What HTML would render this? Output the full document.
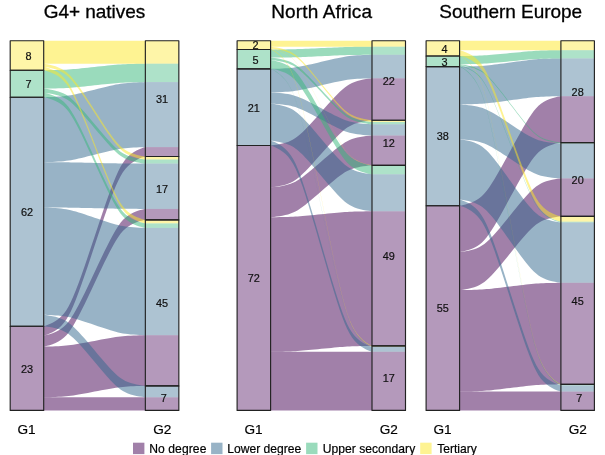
<!DOCTYPE html><html><head><meta charset="utf-8"><title>Alluvial</title><style>html,body{margin:0;padding:0;background:#fff}svg{display:block}</style></head><body><svg width="605" height="455" viewBox="0 0 605 455" font-family="Liberation Sans, Arial, sans-serif">
<rect width="605" height="455" fill="#fff"/>
<g fill-opacity="0.50">
<path d="M43.70 326.20 L43.77 326.18 L44.25 326.06 L45.38 325.73 L47.24 325.10 L49.70 324.12 L52.54 322.77 L55.50 321.06 L58.41 318.99 L61.15 316.56 L63.73 313.72 L66.17 310.38 L68.53 306.45 L70.91 301.80 L73.35 296.35 L75.91 290.07 L78.63 282.94 L81.52 274.96 L84.58 266.19 L87.80 256.75 L91.13 246.83 L94.52 236.65 L97.92 226.47 L101.25 216.55 L104.47 207.11 L107.53 198.34 L110.42 190.36 L113.14 183.23 L115.70 176.95 L118.14 171.50 L120.52 166.85 L122.88 162.92 L125.32 159.58 L127.90 156.74 L130.64 154.31 L133.55 152.24 L136.51 150.53 L139.35 149.18 L141.81 148.20 L143.67 147.57 L144.80 147.24 L145.28 147.12 L145.35 147.10 L145.35 156.50 L145.28 156.52 L144.80 156.64 L143.67 156.97 L141.81 157.60 L139.35 158.58 L136.51 159.93 L133.55 161.64 L130.64 163.71 L127.90 166.14 L125.32 168.98 L122.88 172.32 L120.52 176.25 L118.14 180.90 L115.70 186.35 L113.14 192.63 L110.42 199.76 L107.53 207.74 L104.47 216.51 L101.25 225.95 L97.92 235.87 L94.52 246.05 L91.13 256.23 L87.80 266.15 L84.58 275.59 L81.52 284.36 L78.63 292.34 L75.91 299.47 L73.35 305.75 L70.91 311.20 L68.53 315.85 L66.17 319.78 L63.73 323.12 L61.15 325.96 L58.41 328.39 L55.50 330.46 L52.54 332.17 L49.70 333.52 L47.24 334.50 L45.38 335.13 L44.25 335.46 L43.77 335.58 L43.70 335.60Z" fill="#440154"/>
<path d="M43.70 335.60 L43.77 335.59 L44.25 335.50 L45.38 335.27 L47.24 334.82 L49.70 334.13 L52.54 333.17 L55.50 331.96 L58.41 330.50 L61.15 328.78 L63.73 326.77 L66.17 324.41 L68.53 321.63 L70.91 318.34 L73.35 314.48 L75.91 310.04 L78.63 305.00 L81.52 299.35 L84.58 293.14 L87.80 286.47 L91.13 279.45 L94.52 272.25 L97.92 265.05 L101.25 258.03 L104.47 251.36 L107.53 245.15 L110.42 239.50 L113.14 234.46 L115.70 230.02 L118.14 226.16 L120.52 222.87 L122.88 220.09 L125.32 217.73 L127.90 215.72 L130.64 214.00 L133.55 212.54 L136.51 211.33 L139.35 210.37 L141.81 209.68 L143.67 209.23 L144.80 209.00 L145.28 208.91 L145.35 208.90 L145.35 219.90 L145.28 219.91 L144.80 220.00 L143.67 220.23 L141.81 220.68 L139.35 221.37 L136.51 222.33 L133.55 223.54 L130.64 225.00 L127.90 226.72 L125.32 228.73 L122.88 231.09 L120.52 233.87 L118.14 237.16 L115.70 241.02 L113.14 245.46 L110.42 250.50 L107.53 256.15 L104.47 262.36 L101.25 269.03 L97.92 276.05 L94.52 283.25 L91.13 290.45 L87.80 297.47 L84.58 304.14 L81.52 310.35 L78.63 316.00 L75.91 321.04 L73.35 325.48 L70.91 329.34 L68.53 332.63 L66.17 335.41 L63.73 337.77 L61.15 339.78 L58.41 341.50 L55.50 342.96 L52.54 344.17 L49.70 345.13 L47.24 345.82 L45.38 346.27 L44.25 346.50 L43.77 346.59 L43.70 346.60Z" fill="#440154"/>
<path d="M43.70 346.60 L43.77 346.60 L44.25 346.59 L45.38 346.57 L47.24 346.53 L49.70 346.47 L52.54 346.38 L55.50 346.27 L58.41 346.14 L61.15 345.99 L63.73 345.81 L66.17 345.59 L68.53 345.34 L70.91 345.05 L73.35 344.70 L75.91 344.30 L78.63 343.85 L81.52 343.34 L84.58 342.78 L87.80 342.18 L91.13 341.55 L94.52 340.90 L97.92 340.25 L101.25 339.62 L104.47 339.02 L107.53 338.46 L110.42 337.95 L113.14 337.50 L115.70 337.10 L118.14 336.75 L120.52 336.46 L122.88 336.21 L125.32 335.99 L127.90 335.81 L130.64 335.66 L133.55 335.53 L136.51 335.42 L139.35 335.33 L141.81 335.27 L143.67 335.23 L144.80 335.21 L145.28 335.20 L145.35 335.20 L145.35 385.90 L145.28 385.90 L144.80 385.91 L143.67 385.93 L141.81 385.97 L139.35 386.03 L136.51 386.12 L133.55 386.23 L130.64 386.36 L127.90 386.51 L125.32 386.69 L122.88 386.91 L120.52 387.16 L118.14 387.45 L115.70 387.80 L113.14 388.20 L110.42 388.65 L107.53 389.16 L104.47 389.72 L101.25 390.32 L97.92 390.95 L94.52 391.60 L91.13 392.25 L87.80 392.88 L84.58 393.48 L81.52 394.04 L78.63 394.55 L75.91 395.00 L73.35 395.40 L70.91 395.75 L68.53 396.04 L66.17 396.29 L63.73 396.51 L61.15 396.69 L58.41 396.84 L55.50 396.97 L52.54 397.08 L49.70 397.17 L47.24 397.23 L45.38 397.27 L44.25 397.29 L43.77 397.30 L43.70 397.30Z" fill="#440154"/>
<path d="M43.70 397.30 L43.77 397.30 L44.25 397.30 L45.38 397.30 L47.24 397.30 L49.70 397.30 L52.54 397.30 L55.50 397.30 L58.41 397.30 L61.15 397.30 L63.73 397.30 L66.17 397.30 L68.53 397.30 L70.91 397.30 L73.35 397.30 L75.91 397.30 L78.63 397.30 L81.52 397.30 L84.58 397.30 L87.80 397.30 L91.13 397.30 L94.52 397.30 L97.92 397.30 L101.25 397.30 L104.47 397.30 L107.53 397.30 L110.42 397.30 L113.14 397.30 L115.70 397.30 L118.14 397.30 L120.52 397.30 L122.88 397.30 L125.32 397.30 L127.90 397.30 L130.64 397.30 L133.55 397.30 L136.51 397.30 L139.35 397.30 L141.81 397.30 L143.67 397.30 L144.80 397.30 L145.28 397.30 L145.35 397.30 L145.35 410.40 L145.28 410.40 L144.80 410.40 L143.67 410.40 L141.81 410.40 L139.35 410.40 L136.51 410.40 L133.55 410.40 L130.64 410.40 L127.90 410.40 L125.32 410.40 L122.88 410.40 L120.52 410.40 L118.14 410.40 L115.70 410.40 L113.14 410.40 L110.42 410.40 L107.53 410.40 L104.47 410.40 L101.25 410.40 L97.92 410.40 L94.52 410.40 L91.13 410.40 L87.80 410.40 L84.58 410.40 L81.52 410.40 L78.63 410.40 L75.91 410.40 L73.35 410.40 L70.91 410.40 L68.53 410.40 L66.17 410.40 L63.73 410.40 L61.15 410.40 L58.41 410.40 L55.50 410.40 L52.54 410.40 L49.70 410.40 L47.24 410.40 L45.38 410.40 L44.25 410.40 L43.77 410.40 L43.70 410.40Z" fill="#440154"/>
<path d="M43.70 97.20 L43.77 97.20 L44.25 97.19 L45.38 97.16 L47.24 97.11 L49.70 97.02 L52.54 96.91 L55.50 96.77 L58.41 96.59 L61.15 96.39 L63.73 96.15 L66.17 95.87 L68.53 95.53 L70.91 95.14 L73.35 94.68 L75.91 94.15 L78.63 93.55 L81.52 92.88 L84.58 92.14 L87.80 91.34 L91.13 90.51 L94.52 89.65 L97.92 88.79 L101.25 87.96 L104.47 87.16 L107.53 86.42 L110.42 85.75 L113.14 85.15 L115.70 84.62 L118.14 84.16 L120.52 83.77 L122.88 83.43 L125.32 83.15 L127.90 82.91 L130.64 82.71 L133.55 82.53 L136.51 82.39 L139.35 82.28 L141.81 82.19 L143.67 82.14 L144.80 82.11 L145.28 82.10 L145.35 82.10 L145.35 147.10 L145.28 147.10 L144.80 147.11 L143.67 147.14 L141.81 147.19 L139.35 147.28 L136.51 147.39 L133.55 147.53 L130.64 147.71 L127.90 147.91 L125.32 148.15 L122.88 148.43 L120.52 148.77 L118.14 149.16 L115.70 149.62 L113.14 150.15 L110.42 150.75 L107.53 151.42 L104.47 152.16 L101.25 152.96 L97.92 153.79 L94.52 154.65 L91.13 155.51 L87.80 156.34 L84.58 157.14 L81.52 157.88 L78.63 158.55 L75.91 159.15 L73.35 159.68 L70.91 160.14 L68.53 160.53 L66.17 160.87 L63.73 161.15 L61.15 161.39 L58.41 161.59 L55.50 161.77 L52.54 161.91 L49.70 162.02 L47.24 162.11 L45.38 162.16 L44.25 162.19 L43.77 162.20 L43.70 162.20Z" fill="#31688E"/>
<path d="M43.70 162.20 L43.77 162.20 L44.25 162.20 L45.38 162.20 L47.24 162.21 L49.70 162.22 L52.54 162.23 L55.50 162.24 L58.41 162.26 L61.15 162.28 L63.73 162.30 L66.17 162.32 L68.53 162.35 L70.91 162.39 L73.35 162.43 L75.91 162.48 L78.63 162.54 L81.52 162.60 L84.58 162.67 L87.80 162.74 L91.13 162.82 L94.52 162.90 L97.92 162.98 L101.25 163.06 L104.47 163.13 L107.53 163.20 L110.42 163.26 L113.14 163.32 L115.70 163.37 L118.14 163.41 L120.52 163.45 L122.88 163.48 L125.32 163.50 L127.90 163.52 L130.64 163.54 L133.55 163.56 L136.51 163.57 L139.35 163.58 L141.81 163.59 L143.67 163.60 L144.80 163.60 L145.28 163.60 L145.35 163.60 L145.35 208.90 L145.28 208.90 L144.80 208.90 L143.67 208.90 L141.81 208.89 L139.35 208.88 L136.51 208.87 L133.55 208.86 L130.64 208.84 L127.90 208.82 L125.32 208.80 L122.88 208.78 L120.52 208.75 L118.14 208.71 L115.70 208.67 L113.14 208.62 L110.42 208.56 L107.53 208.50 L104.47 208.43 L101.25 208.36 L97.92 208.28 L94.52 208.20 L91.13 208.12 L87.80 208.04 L84.58 207.97 L81.52 207.90 L78.63 207.84 L75.91 207.78 L73.35 207.73 L70.91 207.69 L68.53 207.65 L66.17 207.62 L63.73 207.60 L61.15 207.58 L58.41 207.56 L55.50 207.54 L52.54 207.53 L49.70 207.52 L47.24 207.51 L45.38 207.50 L44.25 207.50 L43.77 207.50 L43.70 207.50Z" fill="#31688E"/>
<path d="M43.70 207.50 L43.77 207.50 L44.25 207.52 L45.38 207.55 L47.24 207.62 L49.70 207.74 L52.54 207.89 L55.50 208.09 L58.41 208.32 L61.15 208.60 L63.73 208.92 L66.17 209.30 L68.53 209.75 L70.91 210.28 L73.35 210.90 L75.91 211.62 L78.63 212.43 L81.52 213.34 L84.58 214.34 L87.80 215.41 L91.13 216.54 L94.52 217.70 L97.92 218.86 L101.25 219.99 L104.47 221.06 L107.53 222.06 L110.42 222.97 L113.14 223.78 L115.70 224.50 L118.14 225.12 L120.52 225.65 L122.88 226.10 L125.32 226.48 L127.90 226.80 L130.64 227.08 L133.55 227.31 L136.51 227.51 L139.35 227.66 L141.81 227.78 L143.67 227.85 L144.80 227.88 L145.28 227.90 L145.35 227.90 L145.35 335.20 L145.28 335.20 L144.80 335.18 L143.67 335.15 L141.81 335.08 L139.35 334.96 L136.51 334.81 L133.55 334.61 L130.64 334.38 L127.90 334.10 L125.32 333.78 L122.88 333.40 L120.52 332.95 L118.14 332.42 L115.70 331.80 L113.14 331.08 L110.42 330.27 L107.53 329.36 L104.47 328.36 L101.25 327.29 L97.92 326.16 L94.52 325.00 L91.13 323.84 L87.80 322.71 L84.58 321.64 L81.52 320.64 L78.63 319.73 L75.91 318.92 L73.35 318.20 L70.91 317.58 L68.53 317.05 L66.17 316.60 L63.73 316.22 L61.15 315.90 L58.41 315.62 L55.50 315.39 L52.54 315.19 L49.70 315.04 L47.24 314.92 L45.38 314.85 L44.25 314.82 L43.77 314.80 L43.70 314.80Z" fill="#31688E"/>
<path d="M43.70 314.80 L43.77 314.81 L44.25 314.85 L45.38 314.99 L47.24 315.24 L49.70 315.63 L52.54 316.16 L55.50 316.84 L58.41 317.66 L61.15 318.63 L63.73 319.75 L66.17 321.08 L68.53 322.64 L70.91 324.49 L73.35 326.65 L75.91 329.14 L78.63 331.97 L81.52 335.14 L84.58 338.62 L87.80 342.37 L91.13 346.31 L94.52 350.35 L97.92 354.39 L101.25 358.33 L104.47 362.08 L107.53 365.56 L110.42 368.73 L113.14 371.56 L115.70 374.05 L118.14 376.21 L120.52 378.06 L122.88 379.62 L125.32 380.95 L127.90 382.07 L130.64 383.04 L133.55 383.86 L136.51 384.54 L139.35 385.07 L141.81 385.46 L143.67 385.71 L144.80 385.85 L145.28 385.89 L145.35 385.90 L145.35 397.30 L145.28 397.29 L144.80 397.25 L143.67 397.11 L141.81 396.86 L139.35 396.47 L136.51 395.94 L133.55 395.26 L130.64 394.44 L127.90 393.47 L125.32 392.35 L122.88 391.02 L120.52 389.46 L118.14 387.61 L115.70 385.45 L113.14 382.96 L110.42 380.13 L107.53 376.96 L104.47 373.48 L101.25 369.73 L97.92 365.79 L94.52 361.75 L91.13 357.71 L87.80 353.77 L84.58 350.02 L81.52 346.54 L78.63 343.37 L75.91 340.54 L73.35 338.05 L70.91 335.89 L68.53 334.04 L66.17 332.48 L63.73 331.15 L61.15 330.03 L58.41 329.06 L55.50 328.24 L52.54 327.56 L49.70 327.03 L47.24 326.64 L45.38 326.39 L44.25 326.25 L43.77 326.21 L43.70 326.20Z" fill="#31688E"/>
<path d="M43.70 70.20 L43.77 70.20 L44.25 70.20 L45.38 70.18 L47.24 70.16 L49.70 70.12 L52.54 70.08 L55.50 70.01 L58.41 69.94 L61.15 69.85 L63.73 69.75 L66.17 69.63 L68.53 69.48 L70.91 69.31 L73.35 69.12 L75.91 68.89 L78.63 68.63 L81.52 68.34 L84.58 68.02 L87.80 67.68 L91.13 67.32 L94.52 66.95 L97.92 66.58 L101.25 66.22 L104.47 65.88 L107.53 65.56 L110.42 65.27 L113.14 65.01 L115.70 64.78 L118.14 64.59 L120.52 64.42 L122.88 64.27 L125.32 64.15 L127.90 64.05 L130.64 63.96 L133.55 63.89 L136.51 63.82 L139.35 63.78 L141.81 63.74 L143.67 63.72 L144.80 63.70 L145.28 63.70 L145.35 63.70 L145.35 82.10 L145.28 82.10 L144.80 82.10 L143.67 82.12 L141.81 82.14 L139.35 82.18 L136.51 82.22 L133.55 82.29 L130.64 82.36 L127.90 82.45 L125.32 82.55 L122.88 82.67 L120.52 82.82 L118.14 82.99 L115.70 83.18 L113.14 83.41 L110.42 83.67 L107.53 83.96 L104.47 84.28 L101.25 84.62 L97.92 84.98 L94.52 85.35 L91.13 85.72 L87.80 86.08 L84.58 86.42 L81.52 86.74 L78.63 87.03 L75.91 87.29 L73.35 87.52 L70.91 87.71 L68.53 87.88 L66.17 88.03 L63.73 88.15 L61.15 88.25 L58.41 88.34 L55.50 88.41 L52.54 88.48 L49.70 88.52 L47.24 88.56 L45.38 88.58 L44.25 88.60 L43.77 88.60 L43.70 88.60Z" fill="#35B779"/>
<path d="M43.70 88.60 L43.77 88.61 L44.25 88.65 L45.38 88.78 L47.24 89.03 L49.70 89.42 L52.54 89.96 L55.50 90.64 L58.41 91.45 L61.15 92.41 L63.73 93.54 L66.17 94.86 L68.53 96.42 L70.91 98.26 L73.35 100.42 L75.91 102.90 L78.63 105.73 L81.52 108.89 L84.58 112.36 L87.80 116.09 L91.13 120.02 L94.52 124.05 L97.92 128.08 L101.25 132.01 L104.47 135.74 L107.53 139.21 L110.42 142.37 L113.14 145.20 L115.70 147.68 L118.14 149.84 L120.52 151.68 L122.88 153.24 L125.32 154.56 L127.90 155.69 L130.64 156.65 L133.55 157.46 L136.51 158.14 L139.35 158.68 L141.81 159.07 L143.67 159.32 L144.80 159.45 L145.28 159.49 L145.35 159.50 L145.35 163.60 L145.28 163.59 L144.80 163.55 L143.67 163.42 L141.81 163.17 L139.35 162.78 L136.51 162.24 L133.55 161.56 L130.64 160.75 L127.90 159.79 L125.32 158.66 L122.88 157.34 L120.52 155.78 L118.14 153.94 L115.70 151.78 L113.14 149.30 L110.42 146.47 L107.53 143.31 L104.47 139.84 L101.25 136.11 L97.92 132.18 L94.52 128.15 L91.13 124.12 L87.80 120.19 L84.58 116.46 L81.52 112.99 L78.63 109.83 L75.91 107.00 L73.35 104.52 L70.91 102.36 L68.53 100.52 L66.17 98.96 L63.73 97.64 L61.15 96.51 L58.41 95.55 L55.50 94.74 L52.54 94.06 L49.70 93.52 L47.24 93.13 L45.38 92.88 L44.25 92.75 L43.77 92.71 L43.70 92.70Z" fill="#35B779"/>
<path d="M43.70 92.70 L43.77 92.71 L44.25 92.80 L45.38 93.04 L47.24 93.50 L49.70 94.22 L52.54 95.20 L55.50 96.45 L58.41 97.96 L61.15 99.73 L63.73 101.81 L66.17 104.24 L68.53 107.11 L70.91 110.51 L73.35 114.48 L75.91 119.07 L78.63 124.27 L81.52 130.09 L84.58 136.50 L87.80 143.38 L91.13 150.62 L94.52 158.05 L97.92 165.48 L101.25 172.72 L104.47 179.60 L107.53 186.01 L110.42 191.83 L113.14 197.03 L115.70 201.62 L118.14 205.59 L120.52 208.99 L122.88 211.86 L125.32 214.29 L127.90 216.37 L130.64 218.14 L133.55 219.65 L136.51 220.90 L139.35 221.88 L141.81 222.60 L143.67 223.06 L144.80 223.30 L145.28 223.39 L145.35 223.40 L145.35 227.90 L145.28 227.89 L144.80 227.80 L143.67 227.56 L141.81 227.10 L139.35 226.38 L136.51 225.40 L133.55 224.15 L130.64 222.64 L127.90 220.87 L125.32 218.79 L122.88 216.36 L120.52 213.49 L118.14 210.09 L115.70 206.12 L113.14 201.53 L110.42 196.33 L107.53 190.51 L104.47 184.10 L101.25 177.22 L97.92 169.98 L94.52 162.55 L91.13 155.12 L87.80 147.88 L84.58 141.00 L81.52 134.59 L78.63 128.77 L75.91 123.57 L73.35 118.98 L70.91 115.01 L68.53 111.61 L66.17 108.74 L63.73 106.31 L61.15 104.23 L58.41 102.46 L55.50 100.95 L52.54 99.70 L49.70 98.72 L47.24 98.00 L45.38 97.54 L44.25 97.30 L43.77 97.21 L43.70 97.20Z" fill="#35B779"/>
<path d="M43.70 40.70 L43.77 40.70 L44.25 40.70 L45.38 40.70 L47.24 40.70 L49.70 40.70 L52.54 40.70 L55.50 40.70 L58.41 40.70 L61.15 40.70 L63.73 40.70 L66.17 40.70 L68.53 40.70 L70.91 40.70 L73.35 40.70 L75.91 40.70 L78.63 40.70 L81.52 40.70 L84.58 40.70 L87.80 40.70 L91.13 40.70 L94.52 40.70 L97.92 40.70 L101.25 40.70 L104.47 40.70 L107.53 40.70 L110.42 40.70 L113.14 40.70 L115.70 40.70 L118.14 40.70 L120.52 40.70 L122.88 40.70 L125.32 40.70 L127.90 40.70 L130.64 40.70 L133.55 40.70 L136.51 40.70 L139.35 40.70 L141.81 40.70 L143.67 40.70 L144.80 40.70 L145.28 40.70 L145.35 40.70 L145.35 63.70 L145.28 63.70 L144.80 63.70 L143.67 63.70 L141.81 63.70 L139.35 63.70 L136.51 63.70 L133.55 63.70 L130.64 63.70 L127.90 63.70 L125.32 63.70 L122.88 63.70 L120.52 63.70 L118.14 63.70 L115.70 63.70 L113.14 63.70 L110.42 63.70 L107.53 63.70 L104.47 63.70 L101.25 63.70 L97.92 63.70 L94.52 63.70 L91.13 63.70 L87.80 63.70 L84.58 63.70 L81.52 63.70 L78.63 63.70 L75.91 63.70 L73.35 63.70 L70.91 63.70 L68.53 63.70 L66.17 63.70 L63.73 63.70 L61.15 63.70 L58.41 63.70 L55.50 63.70 L52.54 63.70 L49.70 63.70 L47.24 63.70 L45.38 63.70 L44.25 63.70 L43.77 63.70 L43.70 63.70Z" fill="#FDE725"/>
<path d="M43.70 63.70 L43.77 63.71 L44.25 63.77 L45.38 63.94 L47.24 64.27 L49.70 64.78 L52.54 65.48 L55.50 66.36 L58.41 67.43 L61.15 68.69 L63.73 70.17 L66.17 71.90 L68.53 73.93 L70.91 76.34 L73.35 79.17 L75.91 82.42 L78.63 86.12 L81.52 90.25 L84.58 94.80 L87.80 99.69 L91.13 104.83 L94.52 110.10 L97.92 115.37 L101.25 120.51 L104.47 125.40 L107.53 129.95 L110.42 134.08 L113.14 137.78 L115.70 141.03 L118.14 143.86 L120.52 146.27 L122.88 148.30 L125.32 150.03 L127.90 151.51 L130.64 152.77 L133.55 153.84 L136.51 154.72 L139.35 155.42 L141.81 155.93 L143.67 156.26 L144.80 156.43 L145.28 156.49 L145.35 156.50 L145.35 159.50 L145.28 159.49 L144.80 159.43 L143.67 159.26 L141.81 158.93 L139.35 158.42 L136.51 157.72 L133.55 156.84 L130.64 155.77 L127.90 154.51 L125.32 153.03 L122.88 151.30 L120.52 149.27 L118.14 146.86 L115.70 144.03 L113.14 140.78 L110.42 137.08 L107.53 132.95 L104.47 128.40 L101.25 123.51 L97.92 118.37 L94.52 113.10 L91.13 107.83 L87.80 102.69 L84.58 97.80 L81.52 93.25 L78.63 89.12 L75.91 85.42 L73.35 82.17 L70.91 79.34 L68.53 76.93 L66.17 74.90 L63.73 73.17 L61.15 71.69 L58.41 70.43 L55.50 69.36 L52.54 68.48 L49.70 67.78 L47.24 67.27 L45.38 66.94 L44.25 66.77 L43.77 66.71 L43.70 66.70Z" fill="#FDE725"/>
<path d="M43.70 66.70 L43.77 66.71 L44.25 66.82 L45.38 67.10 L47.24 67.64 L49.70 68.48 L52.54 69.64 L55.50 71.10 L58.41 72.86 L61.15 74.94 L63.73 77.38 L66.17 80.23 L68.53 83.60 L70.91 87.57 L73.35 92.23 L75.91 97.60 L78.63 103.70 L81.52 110.53 L84.58 118.04 L87.80 126.11 L91.13 134.59 L94.52 143.30 L97.92 152.01 L101.25 160.49 L104.47 168.56 L107.53 176.07 L110.42 182.90 L113.14 189.00 L115.70 194.37 L118.14 199.03 L120.52 203.00 L122.88 206.37 L125.32 209.22 L127.90 211.66 L130.64 213.74 L133.55 215.50 L136.51 216.96 L139.35 218.12 L141.81 218.96 L143.67 219.50 L144.80 219.78 L145.28 219.89 L145.35 219.90 L145.35 223.40 L145.28 223.39 L144.80 223.28 L143.67 223.00 L141.81 222.46 L139.35 221.62 L136.51 220.46 L133.55 219.00 L130.64 217.24 L127.90 215.16 L125.32 212.72 L122.88 209.87 L120.52 206.50 L118.14 202.53 L115.70 197.87 L113.14 192.50 L110.42 186.40 L107.53 179.57 L104.47 172.06 L101.25 163.99 L97.92 155.51 L94.52 146.80 L91.13 138.09 L87.80 129.61 L84.58 121.54 L81.52 114.03 L78.63 107.20 L75.91 101.10 L73.35 95.73 L70.91 91.07 L68.53 87.10 L66.17 83.73 L63.73 80.88 L61.15 78.44 L58.41 76.36 L55.50 74.60 L52.54 73.14 L49.70 71.98 L47.24 71.14 L45.38 70.60 L44.25 70.32 L43.77 70.21 L43.70 70.20Z" fill="#FDE725"/>
</g>
<rect x="10.20" y="40.70" width="33.50" height="29.50" fill="#FDE725" fill-opacity="0.40"/>
<rect x="10.20" y="70.20" width="33.50" height="27.00" fill="#35B779" fill-opacity="0.40"/>
<rect x="10.20" y="97.20" width="33.50" height="229.00" fill="#31688E" fill-opacity="0.40"/>
<rect x="10.20" y="326.20" width="33.50" height="84.20" fill="#440154" fill-opacity="0.40"/>
<rect x="145.35" y="40.70" width="33.50" height="23.00" fill="#FDE725" fill-opacity="0.40"/>
<rect x="145.35" y="63.70" width="33.50" height="18.40" fill="#35B779" fill-opacity="0.40"/>
<rect x="145.35" y="82.10" width="33.50" height="65.00" fill="#31688E" fill-opacity="0.40"/>
<rect x="145.35" y="147.10" width="33.50" height="9.40" fill="#440154" fill-opacity="0.40"/>
<rect x="145.35" y="156.50" width="33.50" height="3.00" fill="#FDE725" fill-opacity="0.40"/>
<rect x="145.35" y="159.50" width="33.50" height="4.10" fill="#35B779" fill-opacity="0.40"/>
<rect x="145.35" y="163.60" width="33.50" height="45.30" fill="#31688E" fill-opacity="0.40"/>
<rect x="145.35" y="208.90" width="33.50" height="11.00" fill="#440154" fill-opacity="0.40"/>
<rect x="145.35" y="219.90" width="33.50" height="3.50" fill="#FDE725" fill-opacity="0.40"/>
<rect x="145.35" y="223.40" width="33.50" height="4.50" fill="#35B779" fill-opacity="0.40"/>
<rect x="145.35" y="227.90" width="33.50" height="107.30" fill="#31688E" fill-opacity="0.40"/>
<rect x="145.35" y="335.20" width="33.50" height="50.70" fill="#440154" fill-opacity="0.40"/>
<rect x="145.35" y="385.90" width="33.50" height="11.40" fill="#31688E" fill-opacity="0.40"/>
<rect x="145.35" y="397.30" width="33.50" height="13.10" fill="#440154" fill-opacity="0.40"/>
<g fill="none" stroke="#222" stroke-width="1.15" stroke-linejoin="round">
<rect x="10.20" y="40.70" width="33.50" height="29.50"/>
<rect x="10.20" y="70.20" width="33.50" height="27.00"/>
<rect x="10.20" y="97.20" width="33.50" height="229.00"/>
<rect x="10.20" y="326.20" width="33.50" height="84.20"/>
<rect x="145.35" y="40.70" width="33.50" height="115.80"/>
<rect x="145.35" y="156.50" width="33.50" height="63.40"/>
<rect x="145.35" y="219.90" width="33.50" height="166.00"/>
<rect x="145.35" y="385.90" width="33.50" height="24.50"/>
</g>
<text x="28.65" y="59.75" font-size="10.9" text-anchor="middle" fill="#111" stroke="#111" stroke-width="0.2">8</text>
<text x="28.65" y="88.00" font-size="10.9" text-anchor="middle" fill="#111" stroke="#111" stroke-width="0.2">7</text>
<text x="26.95" y="216.00" font-size="10.9" text-anchor="middle" fill="#111" stroke="#111" stroke-width="0.2">62</text>
<text x="26.95" y="372.60" font-size="10.9" text-anchor="middle" fill="#111" stroke="#111" stroke-width="0.2">23</text>
<text x="162.10" y="102.90" font-size="10.9" text-anchor="middle" fill="#111" stroke="#111" stroke-width="0.2">31</text>
<text x="162.10" y="192.50" font-size="10.9" text-anchor="middle" fill="#111" stroke="#111" stroke-width="0.2">17</text>
<text x="162.10" y="307.20" font-size="10.9" text-anchor="middle" fill="#111" stroke="#111" stroke-width="0.2">45</text>
<text x="163.80" y="402.45" font-size="10.9" text-anchor="middle" fill="#111" stroke="#111" stroke-width="0.2">7</text>
<text x="94.50" y="18.4" font-size="19" text-anchor="middle" textLength="101.6" lengthAdjust="spacing" fill="#000" stroke="#000" stroke-width="0.3">G4+ natives</text>
<text x="26.55" y="433.6" font-size="13.6" text-anchor="middle" fill="#000" stroke="#000" stroke-width="0.2">G1</text>
<text x="162.20" y="433.6" font-size="13.6" text-anchor="middle" fill="#000" stroke="#000" stroke-width="0.2">G2</text>
<g fill-opacity="0.50">
<path d="M270.60 145.50 L270.67 145.49 L271.15 145.45 L272.27 145.32 L274.13 145.09 L276.59 144.72 L279.42 144.21 L282.38 143.57 L285.27 142.80 L288.01 141.88 L290.58 140.82 L293.01 139.57 L295.37 138.09 L297.74 136.35 L300.18 134.30 L302.73 131.94 L305.44 129.27 L308.32 126.27 L311.38 122.98 L314.59 119.44 L317.92 115.72 L321.30 111.90 L324.68 108.08 L328.01 104.36 L331.22 100.82 L334.28 97.53 L337.16 94.53 L339.87 91.86 L342.43 89.50 L344.86 87.45 L347.23 85.71 L349.59 84.23 L352.02 82.98 L354.59 81.92 L357.33 81.00 L360.22 80.23 L363.18 79.59 L366.01 79.08 L368.47 78.71 L370.33 78.48 L371.45 78.35 L371.93 78.31 L372.00 78.30 L372.00 120.20 L371.93 120.21 L371.45 120.25 L370.33 120.38 L368.47 120.61 L366.01 120.98 L363.18 121.49 L360.22 122.13 L357.33 122.90 L354.59 123.82 L352.02 124.88 L349.59 126.13 L347.23 127.61 L344.86 129.35 L342.43 131.40 L339.87 133.76 L337.16 136.43 L334.28 139.43 L331.22 142.72 L328.01 146.26 L324.68 149.98 L321.30 153.80 L317.92 157.62 L314.59 161.34 L311.38 164.88 L308.32 168.17 L305.44 171.17 L302.73 173.84 L300.18 176.20 L297.74 178.25 L295.37 179.99 L293.01 181.47 L290.58 182.72 L288.01 183.78 L285.27 184.70 L282.38 185.47 L279.42 186.11 L276.59 186.62 L274.13 186.99 L272.27 187.22 L271.15 187.35 L270.67 187.39 L270.60 187.40Z" fill="#440154"/>
<path d="M270.60 187.40 L270.67 187.40 L271.15 187.36 L272.27 187.26 L274.13 187.08 L276.59 186.80 L279.42 186.41 L282.38 185.91 L285.27 185.31 L288.01 184.61 L290.58 183.78 L293.01 182.82 L295.37 181.68 L297.74 180.33 L300.18 178.75 L302.73 176.93 L305.44 174.86 L308.32 172.55 L311.38 170.01 L314.59 167.27 L317.92 164.40 L321.30 161.45 L324.68 158.50 L328.01 155.63 L331.22 152.89 L334.28 150.35 L337.16 148.04 L339.87 145.97 L342.43 144.15 L344.86 142.57 L347.23 141.22 L349.59 140.08 L352.02 139.12 L354.59 138.29 L357.33 137.59 L360.22 136.99 L363.18 136.49 L366.01 136.10 L368.47 135.82 L370.33 135.64 L371.45 135.54 L371.93 135.50 L372.00 135.50 L372.00 165.30 L371.93 165.30 L371.45 165.34 L370.33 165.44 L368.47 165.62 L366.01 165.90 L363.18 166.29 L360.22 166.79 L357.33 167.39 L354.59 168.09 L352.02 168.92 L349.59 169.88 L347.23 171.02 L344.86 172.37 L342.43 173.95 L339.87 175.77 L337.16 177.84 L334.28 180.15 L331.22 182.69 L328.01 185.43 L324.68 188.30 L321.30 191.25 L317.92 194.20 L314.59 197.07 L311.38 199.81 L308.32 202.35 L305.44 204.66 L302.73 206.73 L300.18 208.55 L297.74 210.13 L295.37 211.48 L293.01 212.62 L290.58 213.58 L288.01 214.41 L285.27 215.11 L282.38 215.71 L279.42 216.21 L276.59 216.60 L274.13 216.88 L272.27 217.06 L271.15 217.16 L270.67 217.20 L270.60 217.20Z" fill="#440154"/>
<path d="M270.60 217.20 L270.67 217.20 L271.15 217.20 L272.27 217.18 L274.13 217.16 L276.59 217.13 L279.42 217.09 L282.38 217.03 L285.27 216.96 L288.01 216.88 L290.58 216.79 L293.01 216.68 L295.37 216.55 L297.74 216.40 L300.18 216.22 L302.73 216.01 L305.44 215.77 L308.32 215.51 L311.38 215.22 L314.59 214.91 L317.92 214.59 L321.30 214.25 L324.68 213.91 L328.01 213.59 L331.22 213.28 L334.28 212.99 L337.16 212.73 L339.87 212.49 L342.43 212.28 L344.86 212.10 L347.23 211.95 L349.59 211.82 L352.02 211.71 L354.59 211.62 L357.33 211.54 L360.22 211.47 L363.18 211.41 L366.01 211.37 L368.47 211.34 L370.33 211.32 L371.45 211.30 L371.93 211.30 L372.00 211.30 L372.00 345.90 L371.93 345.90 L371.45 345.90 L370.33 345.92 L368.47 345.94 L366.01 345.97 L363.18 346.01 L360.22 346.07 L357.33 346.14 L354.59 346.22 L352.02 346.31 L349.59 346.42 L347.23 346.55 L344.86 346.70 L342.43 346.88 L339.87 347.09 L337.16 347.33 L334.28 347.59 L331.22 347.88 L328.01 348.19 L324.68 348.51 L321.30 348.85 L317.92 349.19 L314.59 349.51 L311.38 349.82 L308.32 350.11 L305.44 350.37 L302.73 350.61 L300.18 350.82 L297.74 351.00 L295.37 351.15 L293.01 351.28 L290.58 351.39 L288.01 351.48 L285.27 351.56 L282.38 351.63 L279.42 351.69 L276.59 351.73 L274.13 351.76 L272.27 351.78 L271.15 351.80 L270.67 351.80 L270.60 351.80Z" fill="#440154"/>
<path d="M270.60 351.80 L270.67 351.80 L271.15 351.80 L272.27 351.80 L274.13 351.80 L276.59 351.80 L279.42 351.80 L282.38 351.80 L285.27 351.80 L288.01 351.80 L290.58 351.80 L293.01 351.80 L295.37 351.80 L297.74 351.80 L300.18 351.80 L302.73 351.80 L305.44 351.80 L308.32 351.80 L311.38 351.80 L314.59 351.80 L317.92 351.80 L321.30 351.80 L324.68 351.80 L328.01 351.80 L331.22 351.80 L334.28 351.80 L337.16 351.80 L339.87 351.80 L342.43 351.80 L344.86 351.80 L347.23 351.80 L349.59 351.80 L352.02 351.80 L354.59 351.80 L357.33 351.80 L360.22 351.80 L363.18 351.80 L366.01 351.80 L368.47 351.80 L370.33 351.80 L371.45 351.80 L371.93 351.80 L372.00 351.80 L372.00 410.40 L371.93 410.40 L371.45 410.40 L370.33 410.40 L368.47 410.40 L366.01 410.40 L363.18 410.40 L360.22 410.40 L357.33 410.40 L354.59 410.40 L352.02 410.40 L349.59 410.40 L347.23 410.40 L344.86 410.40 L342.43 410.40 L339.87 410.40 L337.16 410.40 L334.28 410.40 L331.22 410.40 L328.01 410.40 L324.68 410.40 L321.30 410.40 L317.92 410.40 L314.59 410.40 L311.38 410.40 L308.32 410.40 L305.44 410.40 L302.73 410.40 L300.18 410.40 L297.74 410.40 L295.37 410.40 L293.01 410.40 L290.58 410.40 L288.01 410.40 L285.27 410.40 L282.38 410.40 L279.42 410.40 L276.59 410.40 L274.13 410.40 L272.27 410.40 L271.15 410.40 L270.67 410.40 L270.60 410.40Z" fill="#440154"/>
<path d="M270.60 68.90 L270.67 68.90 L271.15 68.89 L272.27 68.86 L274.13 68.81 L276.59 68.74 L279.42 68.63 L282.38 68.50 L285.27 68.33 L288.01 68.14 L290.58 67.92 L293.01 67.65 L295.37 67.34 L297.74 66.98 L300.18 66.55 L302.73 66.06 L305.44 65.49 L308.32 64.87 L311.38 64.18 L314.59 63.43 L317.92 62.65 L321.30 61.85 L324.68 61.05 L328.01 60.27 L331.22 59.52 L334.28 58.83 L337.16 58.21 L339.87 57.64 L342.43 57.15 L344.86 56.72 L347.23 56.36 L349.59 56.05 L352.02 55.78 L354.59 55.56 L357.33 55.37 L360.22 55.20 L363.18 55.07 L366.01 54.96 L368.47 54.89 L370.33 54.84 L371.45 54.81 L371.93 54.80 L372.00 54.80 L372.00 78.30 L371.93 78.30 L371.45 78.31 L370.33 78.34 L368.47 78.39 L366.01 78.46 L363.18 78.57 L360.22 78.70 L357.33 78.87 L354.59 79.06 L352.02 79.28 L349.59 79.55 L347.23 79.86 L344.86 80.22 L342.43 80.65 L339.87 81.14 L337.16 81.71 L334.28 82.33 L331.22 83.02 L328.01 83.77 L324.68 84.55 L321.30 85.35 L317.92 86.15 L314.59 86.93 L311.38 87.68 L308.32 88.37 L305.44 88.99 L302.73 89.56 L300.18 90.05 L297.74 90.48 L295.37 90.84 L293.01 91.15 L290.58 91.42 L288.01 91.64 L285.27 91.83 L282.38 92.00 L279.42 92.13 L276.59 92.24 L274.13 92.31 L272.27 92.36 L271.15 92.39 L270.67 92.40 L270.60 92.40Z" fill="#31688E"/>
<path d="M270.60 92.40 L270.67 92.40 L271.15 92.42 L272.27 92.48 L274.13 92.60 L276.59 92.77 L279.42 93.01 L282.38 93.32 L285.27 93.68 L288.01 94.12 L290.58 94.62 L293.01 95.22 L295.37 95.92 L297.74 96.75 L300.18 97.72 L302.73 98.83 L305.44 100.11 L308.32 101.53 L311.38 103.09 L314.59 104.77 L317.92 106.54 L321.30 108.35 L324.68 110.16 L328.01 111.93 L331.22 113.61 L334.28 115.17 L337.16 116.59 L339.87 117.87 L342.43 118.98 L344.86 119.95 L347.23 120.78 L349.59 121.48 L352.02 122.08 L354.59 122.58 L357.33 123.02 L360.22 123.38 L363.18 123.69 L366.01 123.93 L368.47 124.10 L370.33 124.22 L371.45 124.28 L371.93 124.30 L372.00 124.30 L372.00 135.50 L371.93 135.50 L371.45 135.48 L370.33 135.42 L368.47 135.30 L366.01 135.13 L363.18 134.89 L360.22 134.58 L357.33 134.22 L354.59 133.78 L352.02 133.28 L349.59 132.68 L347.23 131.98 L344.86 131.15 L342.43 130.18 L339.87 129.07 L337.16 127.79 L334.28 126.37 L331.22 124.81 L328.01 123.13 L324.68 121.36 L321.30 119.55 L317.92 117.74 L314.59 115.97 L311.38 114.29 L308.32 112.73 L305.44 111.31 L302.73 110.03 L300.18 108.92 L297.74 107.95 L295.37 107.12 L293.01 106.42 L290.58 105.82 L288.01 105.32 L285.27 104.88 L282.38 104.52 L279.42 104.21 L276.59 103.97 L274.13 103.80 L272.27 103.68 L271.15 103.62 L270.67 103.60 L270.60 103.60Z" fill="#31688E"/>
<path d="M270.60 103.60 L270.67 103.61 L271.15 103.65 L272.27 103.78 L274.13 104.03 L276.59 104.42 L279.42 104.95 L282.38 105.63 L285.27 106.44 L288.01 107.40 L290.58 108.53 L293.01 109.84 L295.37 111.40 L297.74 113.23 L300.18 115.38 L302.73 117.86 L305.44 120.68 L308.32 123.83 L311.38 127.29 L314.59 131.02 L317.92 134.93 L321.30 138.95 L324.68 142.97 L328.01 146.88 L331.22 150.61 L334.28 154.07 L337.16 157.22 L339.87 160.04 L342.43 162.52 L344.86 164.67 L347.23 166.50 L349.59 168.06 L352.02 169.37 L354.59 170.50 L357.33 171.46 L360.22 172.27 L363.18 172.95 L366.01 173.48 L368.47 173.87 L370.33 174.12 L371.45 174.25 L371.93 174.29 L372.00 174.30 L372.00 211.30 L371.93 211.29 L371.45 211.25 L370.33 211.12 L368.47 210.87 L366.01 210.48 L363.18 209.95 L360.22 209.27 L357.33 208.46 L354.59 207.50 L352.02 206.37 L349.59 205.06 L347.23 203.50 L344.86 201.67 L342.43 199.52 L339.87 197.04 L337.16 194.22 L334.28 191.07 L331.22 187.61 L328.01 183.88 L324.68 179.97 L321.30 175.95 L317.92 171.93 L314.59 168.02 L311.38 164.29 L308.32 160.83 L305.44 157.68 L302.73 154.86 L300.18 152.38 L297.74 150.23 L295.37 148.40 L293.01 146.84 L290.58 145.53 L288.01 144.40 L285.27 143.44 L282.38 142.63 L279.42 141.95 L276.59 141.42 L274.13 141.03 L272.27 140.78 L271.15 140.65 L270.67 140.61 L270.60 140.60Z" fill="#31688E"/>
<path d="M270.60 140.60 L270.67 140.62 L271.15 140.76 L272.27 141.14 L274.13 141.86 L276.59 143.00 L279.42 144.55 L282.38 146.52 L285.27 148.90 L288.01 151.70 L290.58 154.98 L293.01 158.82 L295.37 163.35 L297.74 168.70 L300.18 174.98 L302.73 182.22 L305.44 190.43 L308.32 199.63 L311.38 209.73 L314.59 220.60 L317.92 232.03 L321.30 243.75 L324.68 255.47 L328.01 266.90 L331.22 277.77 L334.28 287.87 L337.16 297.07 L339.87 305.28 L342.43 312.52 L344.86 318.80 L347.23 324.15 L349.59 328.68 L352.02 332.52 L354.59 335.80 L357.33 338.60 L360.22 340.98 L363.18 342.95 L366.01 344.50 L368.47 345.64 L370.33 346.36 L371.45 346.74 L371.93 346.88 L372.00 346.90 L372.00 351.80 L371.93 351.78 L371.45 351.64 L370.33 351.26 L368.47 350.54 L366.01 349.40 L363.18 347.85 L360.22 345.88 L357.33 343.50 L354.59 340.70 L352.02 337.42 L349.59 333.58 L347.23 329.05 L344.86 323.70 L342.43 317.42 L339.87 310.18 L337.16 301.97 L334.28 292.77 L331.22 282.67 L328.01 271.80 L324.68 260.37 L321.30 248.65 L317.92 236.93 L314.59 225.50 L311.38 214.63 L308.32 204.53 L305.44 195.33 L302.73 187.12 L300.18 179.88 L297.74 173.60 L295.37 168.25 L293.01 163.72 L290.58 159.88 L288.01 156.60 L285.27 153.80 L282.38 151.42 L279.42 149.45 L276.59 147.90 L274.13 146.76 L272.27 146.04 L271.15 145.66 L270.67 145.52 L270.60 145.50Z" fill="#31688E"/>
<path d="M270.60 49.50 L270.67 49.50 L271.15 49.50 L272.27 49.49 L274.13 49.48 L276.59 49.47 L279.42 49.45 L282.38 49.42 L285.27 49.39 L288.01 49.35 L290.58 49.30 L293.01 49.25 L295.37 49.19 L297.74 49.12 L300.18 49.03 L302.73 48.94 L305.44 48.82 L308.32 48.70 L311.38 48.56 L314.59 48.41 L317.92 48.26 L321.30 48.10 L324.68 47.94 L328.01 47.79 L331.22 47.64 L334.28 47.50 L337.16 47.38 L339.87 47.26 L342.43 47.17 L344.86 47.08 L347.23 47.01 L349.59 46.95 L352.02 46.90 L354.59 46.85 L357.33 46.81 L360.22 46.78 L363.18 46.75 L366.01 46.73 L368.47 46.72 L370.33 46.71 L371.45 46.70 L371.93 46.70 L372.00 46.70 L372.00 54.80 L371.93 54.80 L371.45 54.80 L370.33 54.81 L368.47 54.82 L366.01 54.83 L363.18 54.85 L360.22 54.88 L357.33 54.91 L354.59 54.95 L352.02 55.00 L349.59 55.05 L347.23 55.11 L344.86 55.18 L342.43 55.27 L339.87 55.36 L337.16 55.48 L334.28 55.60 L331.22 55.74 L328.01 55.89 L324.68 56.04 L321.30 56.20 L317.92 56.36 L314.59 56.51 L311.38 56.66 L308.32 56.80 L305.44 56.92 L302.73 57.04 L300.18 57.13 L297.74 57.22 L295.37 57.29 L293.01 57.35 L290.58 57.40 L288.01 57.45 L285.27 57.49 L282.38 57.52 L279.42 57.55 L276.59 57.57 L274.13 57.58 L272.27 57.59 L271.15 57.60 L270.67 57.60 L270.60 57.60Z" fill="#35B779"/>
<path d="M270.60 57.60 L270.67 57.61 L271.15 57.65 L272.27 57.77 L274.13 57.99 L276.59 58.35 L279.42 58.83 L282.38 59.45 L285.27 60.19 L288.01 61.07 L290.58 62.09 L293.01 63.29 L295.37 64.70 L297.74 66.37 L300.18 68.33 L302.73 70.59 L305.44 73.16 L308.32 76.03 L311.38 79.18 L314.59 82.57 L317.92 86.14 L321.30 89.80 L324.68 93.46 L328.01 97.03 L331.22 100.42 L334.28 103.57 L337.16 106.44 L339.87 109.01 L342.43 111.27 L344.86 113.23 L347.23 114.90 L349.59 116.31 L352.02 117.51 L354.59 118.53 L357.33 119.41 L360.22 120.15 L363.18 120.77 L366.01 121.25 L368.47 121.61 L370.33 121.83 L371.45 121.95 L371.93 121.99 L372.00 122.00 L372.00 124.30 L371.93 124.29 L371.45 124.25 L370.33 124.13 L368.47 123.91 L366.01 123.55 L363.18 123.07 L360.22 122.45 L357.33 121.71 L354.59 120.83 L352.02 119.81 L349.59 118.61 L347.23 117.20 L344.86 115.53 L342.43 113.57 L339.87 111.31 L337.16 108.74 L334.28 105.87 L331.22 102.72 L328.01 99.33 L324.68 95.76 L321.30 92.10 L317.92 88.44 L314.59 84.87 L311.38 81.48 L308.32 78.33 L305.44 75.46 L302.73 72.89 L300.18 70.63 L297.74 68.67 L295.37 67.00 L293.01 65.59 L290.58 64.39 L288.01 63.37 L285.27 62.49 L282.38 61.75 L279.42 61.13 L276.59 60.65 L274.13 60.29 L272.27 60.07 L271.15 59.95 L270.67 59.91 L270.60 59.90Z" fill="#35B779"/>
<path d="M270.60 59.90 L270.67 59.91 L271.15 59.98 L272.27 60.18 L274.13 60.55 L276.59 61.13 L279.42 61.93 L282.38 62.94 L285.27 64.15 L288.01 65.59 L290.58 67.27 L293.01 69.24 L295.37 71.56 L297.74 74.30 L300.18 77.52 L302.73 81.22 L305.44 85.43 L308.32 90.14 L311.38 95.32 L314.59 100.89 L317.92 106.74 L321.30 112.75 L324.68 118.76 L328.01 124.61 L331.22 130.18 L334.28 135.36 L337.16 140.07 L339.87 144.28 L342.43 147.98 L344.86 151.20 L347.23 153.94 L349.59 156.26 L352.02 158.23 L354.59 159.91 L357.33 161.35 L360.22 162.56 L363.18 163.57 L366.01 164.37 L368.47 164.95 L370.33 165.32 L371.45 165.52 L371.93 165.59 L372.00 165.60 L372.00 174.30 L371.93 174.29 L371.45 174.22 L370.33 174.02 L368.47 173.65 L366.01 173.07 L363.18 172.27 L360.22 171.26 L357.33 170.05 L354.59 168.61 L352.02 166.93 L349.59 164.96 L347.23 162.64 L344.86 159.90 L342.43 156.68 L339.87 152.98 L337.16 148.77 L334.28 144.06 L331.22 138.88 L328.01 133.31 L324.68 127.46 L321.30 121.45 L317.92 115.44 L314.59 109.59 L311.38 104.02 L308.32 98.84 L305.44 94.13 L302.73 89.92 L300.18 86.22 L297.74 83.00 L295.37 80.26 L293.01 77.94 L290.58 75.97 L288.01 74.29 L285.27 72.85 L282.38 71.64 L279.42 70.63 L276.59 69.83 L274.13 69.25 L272.27 68.88 L271.15 68.68 L270.67 68.61 L270.60 68.60Z" fill="#35B779"/>
<path d="M270.60 68.60 L270.67 68.63 L271.15 68.81 L272.27 69.32 L274.13 70.30 L276.59 71.83 L279.42 73.93 L282.38 76.58 L285.27 79.79 L288.01 83.56 L290.58 87.97 L293.01 93.15 L295.37 99.26 L297.74 106.47 L300.18 114.93 L302.73 124.68 L305.44 135.75 L308.32 148.14 L311.38 161.75 L314.59 176.40 L317.92 191.80 L321.30 207.60 L324.68 223.40 L328.01 238.80 L331.22 253.45 L334.28 267.06 L337.16 279.45 L339.87 290.52 L342.43 300.27 L344.86 308.73 L347.23 315.94 L349.59 322.05 L352.02 327.23 L354.59 331.64 L357.33 335.41 L360.22 338.62 L363.18 341.27 L366.01 343.37 L368.47 344.90 L370.33 345.88 L371.45 346.39 L371.93 346.57 L372.00 346.60 L372.00 346.90 L371.93 346.87 L371.45 346.69 L370.33 346.18 L368.47 345.20 L366.01 343.67 L363.18 341.57 L360.22 338.92 L357.33 335.71 L354.59 331.94 L352.02 327.53 L349.59 322.35 L347.23 316.24 L344.86 309.03 L342.43 300.57 L339.87 290.82 L337.16 279.75 L334.28 267.36 L331.22 253.75 L328.01 239.10 L324.68 223.70 L321.30 207.90 L317.92 192.10 L314.59 176.70 L311.38 162.05 L308.32 148.44 L305.44 136.05 L302.73 124.98 L300.18 115.23 L297.74 106.77 L295.37 99.56 L293.01 93.45 L290.58 88.27 L288.01 83.86 L285.27 80.09 L282.38 76.88 L279.42 74.23 L276.59 72.13 L274.13 70.60 L272.27 69.62 L271.15 69.11 L270.67 68.93 L270.60 68.90Z" fill="#35B779"/>
<path d="M270.60 40.70 L270.67 40.70 L271.15 40.70 L272.27 40.70 L274.13 40.70 L276.59 40.70 L279.42 40.70 L282.38 40.70 L285.27 40.70 L288.01 40.70 L290.58 40.70 L293.01 40.70 L295.37 40.70 L297.74 40.70 L300.18 40.70 L302.73 40.70 L305.44 40.70 L308.32 40.70 L311.38 40.70 L314.59 40.70 L317.92 40.70 L321.30 40.70 L324.68 40.70 L328.01 40.70 L331.22 40.70 L334.28 40.70 L337.16 40.70 L339.87 40.70 L342.43 40.70 L344.86 40.70 L347.23 40.70 L349.59 40.70 L352.02 40.70 L354.59 40.70 L357.33 40.70 L360.22 40.70 L363.18 40.70 L366.01 40.70 L368.47 40.70 L370.33 40.70 L371.45 40.70 L371.93 40.70 L372.00 40.70 L372.00 46.70 L371.93 46.70 L371.45 46.70 L370.33 46.70 L368.47 46.70 L366.01 46.70 L363.18 46.70 L360.22 46.70 L357.33 46.70 L354.59 46.70 L352.02 46.70 L349.59 46.70 L347.23 46.70 L344.86 46.70 L342.43 46.70 L339.87 46.70 L337.16 46.70 L334.28 46.70 L331.22 46.70 L328.01 46.70 L324.68 46.70 L321.30 46.70 L317.92 46.70 L314.59 46.70 L311.38 46.70 L308.32 46.70 L305.44 46.70 L302.73 46.70 L300.18 46.70 L297.74 46.70 L295.37 46.70 L293.01 46.70 L290.58 46.70 L288.01 46.70 L285.27 46.70 L282.38 46.70 L279.42 46.70 L276.59 46.70 L274.13 46.70 L272.27 46.70 L271.15 46.70 L270.67 46.70 L270.60 46.70Z" fill="#FDE725"/>
<path d="M270.60 46.70 L270.67 46.71 L271.15 46.76 L272.27 46.89 L274.13 47.15 L276.59 47.55 L279.42 48.11 L282.38 48.81 L285.27 49.66 L288.01 50.65 L290.58 51.82 L293.01 53.19 L295.37 54.81 L297.74 56.71 L300.18 58.95 L302.73 61.53 L305.44 64.45 L308.32 67.73 L311.38 71.33 L314.59 75.20 L317.92 79.27 L321.30 83.45 L324.68 87.63 L328.01 91.70 L331.22 95.57 L334.28 99.17 L337.16 102.45 L339.87 105.37 L342.43 107.95 L344.86 110.19 L347.23 112.09 L349.59 113.71 L352.02 115.08 L354.59 116.25 L357.33 117.24 L360.22 118.09 L363.18 118.79 L366.01 119.35 L368.47 119.75 L370.33 120.01 L371.45 120.14 L371.93 120.19 L372.00 120.20 L372.00 122.00 L371.93 121.99 L371.45 121.94 L370.33 121.81 L368.47 121.55 L366.01 121.15 L363.18 120.59 L360.22 119.89 L357.33 119.04 L354.59 118.05 L352.02 116.88 L349.59 115.51 L347.23 113.89 L344.86 111.99 L342.43 109.75 L339.87 107.17 L337.16 104.25 L334.28 100.97 L331.22 97.37 L328.01 93.50 L324.68 89.43 L321.30 85.25 L317.92 81.07 L314.59 77.00 L311.38 73.13 L308.32 69.53 L305.44 66.25 L302.73 63.33 L300.18 60.75 L297.74 58.51 L295.37 56.61 L293.01 54.99 L290.58 53.62 L288.01 52.45 L285.27 51.46 L282.38 50.61 L279.42 49.91 L276.59 49.35 L274.13 48.95 L272.27 48.69 L271.15 48.56 L270.67 48.51 L270.60 48.50Z" fill="#FDE725"/>
<path d="M270.60 48.50 L270.67 48.51 L271.15 48.59 L272.27 48.80 L274.13 49.22 L276.59 49.86 L279.42 50.74 L282.38 51.85 L285.27 53.20 L288.01 54.78 L290.58 56.64 L293.01 58.82 L295.37 61.38 L297.74 64.41 L300.18 67.97 L302.73 72.06 L305.44 76.71 L308.32 81.92 L311.38 87.64 L314.59 93.79 L317.92 100.26 L321.30 106.90 L324.68 113.54 L328.01 120.01 L331.22 126.16 L334.28 131.88 L337.16 137.09 L339.87 141.74 L342.43 145.83 L344.86 149.39 L347.23 152.42 L349.59 154.98 L352.02 157.16 L354.59 159.02 L357.33 160.60 L360.22 161.95 L363.18 163.06 L366.01 163.94 L368.47 164.58 L370.33 165.00 L371.45 165.21 L371.93 165.29 L372.00 165.30 L372.00 165.60 L371.93 165.59 L371.45 165.51 L370.33 165.30 L368.47 164.88 L366.01 164.24 L363.18 163.36 L360.22 162.25 L357.33 160.90 L354.59 159.32 L352.02 157.46 L349.59 155.28 L347.23 152.72 L344.86 149.69 L342.43 146.13 L339.87 142.04 L337.16 137.39 L334.28 132.18 L331.22 126.46 L328.01 120.31 L324.68 113.84 L321.30 107.20 L317.92 100.56 L314.59 94.09 L311.38 87.94 L308.32 82.22 L305.44 77.01 L302.73 72.36 L300.18 68.27 L297.74 64.71 L295.37 61.68 L293.01 59.12 L290.58 56.94 L288.01 55.08 L285.27 53.50 L282.38 52.15 L279.42 51.04 L276.59 50.16 L274.13 49.52 L272.27 49.10 L271.15 48.89 L270.67 48.81 L270.60 48.80Z" fill="#FDE725"/>
<path d="M270.60 48.80 L270.67 48.83 L271.15 49.03 L272.27 49.57 L274.13 50.62 L276.59 52.25 L279.42 54.49 L282.38 57.33 L285.27 60.75 L288.01 64.79 L290.58 69.50 L293.01 75.04 L295.37 81.57 L297.74 89.27 L300.18 98.32 L302.73 108.73 L305.44 120.56 L308.32 133.80 L311.38 148.35 L314.59 164.01 L317.92 180.47 L321.30 197.35 L324.68 214.23 L328.01 230.69 L331.22 246.35 L334.28 260.90 L337.16 274.14 L339.87 285.97 L342.43 296.38 L344.86 305.43 L347.23 313.13 L349.59 319.66 L352.02 325.20 L354.59 329.91 L357.33 333.95 L360.22 337.37 L363.18 340.21 L366.01 342.45 L368.47 344.08 L370.33 345.13 L371.45 345.67 L371.93 345.87 L372.00 345.90 L372.00 346.60 L371.93 346.57 L371.45 346.37 L370.33 345.83 L368.47 344.78 L366.01 343.15 L363.18 340.91 L360.22 338.07 L357.33 334.65 L354.59 330.61 L352.02 325.90 L349.59 320.36 L347.23 313.83 L344.86 306.13 L342.43 297.08 L339.87 286.67 L337.16 274.84 L334.28 261.60 L331.22 247.05 L328.01 231.39 L324.68 214.93 L321.30 198.05 L317.92 181.17 L314.59 164.71 L311.38 149.05 L308.32 134.50 L305.44 121.26 L302.73 109.43 L300.18 99.02 L297.74 89.97 L295.37 82.27 L293.01 75.74 L290.58 70.20 L288.01 65.49 L285.27 61.45 L282.38 58.03 L279.42 55.19 L276.59 52.95 L274.13 51.32 L272.27 50.27 L271.15 49.73 L270.67 49.53 L270.60 49.50Z" fill="#FDE725"/>
</g>
<rect x="237.10" y="40.70" width="33.50" height="8.80" fill="#FDE725" fill-opacity="0.40"/>
<rect x="237.10" y="49.50" width="33.50" height="19.40" fill="#35B779" fill-opacity="0.40"/>
<rect x="237.10" y="68.90" width="33.50" height="76.60" fill="#31688E" fill-opacity="0.40"/>
<rect x="237.10" y="145.50" width="33.50" height="264.90" fill="#440154" fill-opacity="0.40"/>
<rect x="372.00" y="40.70" width="33.50" height="6.00" fill="#FDE725" fill-opacity="0.40"/>
<rect x="372.00" y="46.70" width="33.50" height="8.10" fill="#35B779" fill-opacity="0.40"/>
<rect x="372.00" y="54.80" width="33.50" height="23.50" fill="#31688E" fill-opacity="0.40"/>
<rect x="372.00" y="78.30" width="33.50" height="41.90" fill="#440154" fill-opacity="0.40"/>
<rect x="372.00" y="120.20" width="33.50" height="1.80" fill="#FDE725" fill-opacity="0.40"/>
<rect x="372.00" y="122.00" width="33.50" height="2.30" fill="#35B779" fill-opacity="0.40"/>
<rect x="372.00" y="124.30" width="33.50" height="11.20" fill="#31688E" fill-opacity="0.40"/>
<rect x="372.00" y="135.50" width="33.50" height="29.80" fill="#440154" fill-opacity="0.40"/>
<rect x="372.00" y="165.30" width="33.50" height="0.30" fill="#FDE725" fill-opacity="0.40"/>
<rect x="372.00" y="165.60" width="33.50" height="8.70" fill="#35B779" fill-opacity="0.40"/>
<rect x="372.00" y="174.30" width="33.50" height="37.00" fill="#31688E" fill-opacity="0.40"/>
<rect x="372.00" y="211.30" width="33.50" height="134.60" fill="#440154" fill-opacity="0.40"/>
<rect x="372.00" y="345.90" width="33.50" height="0.70" fill="#FDE725" fill-opacity="0.40"/>
<rect x="372.00" y="346.60" width="33.50" height="0.30" fill="#35B779" fill-opacity="0.40"/>
<rect x="372.00" y="346.90" width="33.50" height="4.90" fill="#31688E" fill-opacity="0.40"/>
<rect x="372.00" y="351.80" width="33.50" height="58.60" fill="#440154" fill-opacity="0.40"/>
<g fill="none" stroke="#222" stroke-width="1.15" stroke-linejoin="round">
<rect x="237.10" y="40.70" width="33.50" height="8.80"/>
<rect x="237.10" y="49.50" width="33.50" height="19.40"/>
<rect x="237.10" y="68.90" width="33.50" height="76.60"/>
<rect x="237.10" y="145.50" width="33.50" height="264.90"/>
<rect x="372.00" y="40.70" width="33.50" height="79.50"/>
<rect x="372.00" y="120.20" width="33.50" height="45.10"/>
<rect x="372.00" y="165.30" width="33.50" height="180.60"/>
<rect x="372.00" y="345.90" width="33.50" height="64.50"/>
</g>
<text x="255.55" y="49.40" font-size="10.9" text-anchor="middle" fill="#111" stroke="#111" stroke-width="0.2">2</text>
<text x="255.55" y="63.50" font-size="10.9" text-anchor="middle" fill="#111" stroke="#111" stroke-width="0.2">5</text>
<text x="253.85" y="111.50" font-size="10.9" text-anchor="middle" fill="#111" stroke="#111" stroke-width="0.2">21</text>
<text x="253.85" y="282.25" font-size="10.9" text-anchor="middle" fill="#111" stroke="#111" stroke-width="0.2">72</text>
<text x="388.75" y="84.75" font-size="10.9" text-anchor="middle" fill="#111" stroke="#111" stroke-width="0.2">22</text>
<text x="388.75" y="147.05" font-size="10.9" text-anchor="middle" fill="#111" stroke="#111" stroke-width="0.2">12</text>
<text x="388.75" y="259.90" font-size="10.9" text-anchor="middle" fill="#111" stroke="#111" stroke-width="0.2">49</text>
<text x="388.75" y="382.45" font-size="10.9" text-anchor="middle" fill="#111" stroke="#111" stroke-width="0.2">17</text>
<text x="321.60" y="18.4" font-size="19" text-anchor="middle" textLength="100.9" lengthAdjust="spacing" fill="#000" stroke="#000" stroke-width="0.3">North Africa</text>
<text x="253.45" y="433.6" font-size="13.6" text-anchor="middle" fill="#000" stroke="#000" stroke-width="0.2">G1</text>
<text x="388.85" y="433.6" font-size="13.6" text-anchor="middle" fill="#000" stroke="#000" stroke-width="0.2">G2</text>
<g fill-opacity="0.50">
<path d="M459.60 205.70 L459.67 205.69 L460.15 205.62 L461.27 205.41 L463.12 205.03 L465.58 204.43 L468.41 203.60 L471.36 202.56 L474.26 201.29 L476.99 199.81 L479.56 198.07 L481.99 196.03 L484.35 193.62 L486.71 190.78 L489.15 187.45 L491.70 183.61 L494.41 179.25 L497.29 174.37 L500.34 169.01 L503.55 163.24 L506.87 157.17 L510.25 150.95 L513.63 144.73 L516.95 138.66 L520.16 132.89 L523.21 127.53 L526.09 122.65 L528.80 118.29 L531.35 114.45 L533.79 111.12 L536.15 108.28 L538.51 105.87 L540.94 103.83 L543.51 102.09 L546.24 100.61 L549.14 99.34 L552.09 98.30 L554.92 97.47 L557.38 96.87 L559.23 96.49 L560.35 96.28 L560.83 96.21 L560.90 96.20 L560.90 142.60 L560.83 142.61 L560.35 142.68 L559.23 142.89 L557.38 143.27 L554.92 143.87 L552.09 144.70 L549.14 145.74 L546.24 147.01 L543.51 148.49 L540.94 150.23 L538.51 152.27 L536.15 154.68 L533.79 157.52 L531.35 160.85 L528.80 164.69 L526.09 169.05 L523.21 173.93 L520.16 179.29 L516.95 185.06 L513.63 191.13 L510.25 197.35 L506.87 203.57 L503.55 209.64 L500.34 215.41 L497.29 220.77 L494.41 225.65 L491.70 230.01 L489.15 233.85 L486.71 237.18 L484.35 240.02 L481.99 242.43 L479.56 244.47 L476.99 246.21 L474.26 247.69 L471.36 248.96 L468.41 250.00 L465.58 250.83 L463.12 251.43 L461.27 251.81 L460.15 252.02 L459.67 252.09 L459.60 252.10Z" fill="#440154"/>
<path d="M459.60 252.10 L459.67 252.09 L460.15 252.04 L461.27 251.91 L463.12 251.65 L465.58 251.24 L468.41 250.69 L471.36 249.98 L474.26 249.13 L476.99 248.13 L479.56 246.96 L481.99 245.59 L484.35 243.97 L486.71 242.06 L489.15 239.82 L491.70 237.23 L494.41 234.30 L497.29 231.01 L500.34 227.40 L503.55 223.52 L506.87 219.44 L510.25 215.25 L513.63 211.06 L516.95 206.98 L520.16 203.10 L523.21 199.49 L526.09 196.20 L528.80 193.27 L531.35 190.68 L533.79 188.44 L536.15 186.53 L538.51 184.91 L540.94 183.54 L543.51 182.37 L546.24 181.37 L549.14 180.52 L552.09 179.81 L554.92 179.26 L557.38 178.85 L559.23 178.59 L560.35 178.46 L560.83 178.41 L560.90 178.40 L560.90 216.40 L560.83 216.41 L560.35 216.46 L559.23 216.59 L557.38 216.85 L554.92 217.26 L552.09 217.81 L549.14 218.52 L546.24 219.37 L543.51 220.37 L540.94 221.54 L538.51 222.91 L536.15 224.53 L533.79 226.44 L531.35 228.68 L528.80 231.27 L526.09 234.20 L523.21 237.49 L520.16 241.10 L516.95 244.98 L513.63 249.06 L510.25 253.25 L506.87 257.44 L503.55 261.52 L500.34 265.40 L497.29 269.01 L494.41 272.30 L491.70 275.23 L489.15 277.82 L486.71 280.06 L484.35 281.97 L481.99 283.59 L479.56 284.96 L476.99 286.13 L474.26 287.13 L471.36 287.98 L468.41 288.69 L465.58 289.24 L463.12 289.65 L461.27 289.91 L460.15 290.04 L459.67 290.09 L459.60 290.10Z" fill="#440154"/>
<path d="M459.60 290.10 L459.67 290.10 L460.15 290.09 L461.27 290.08 L463.12 290.06 L465.58 290.02 L468.41 289.96 L471.36 289.89 L474.26 289.81 L476.99 289.71 L479.56 289.59 L481.99 289.46 L484.35 289.29 L486.71 289.11 L489.15 288.88 L491.70 288.63 L494.41 288.34 L497.29 288.01 L500.34 287.65 L503.55 287.27 L506.87 286.86 L510.25 286.45 L513.63 286.04 L516.95 285.63 L520.16 285.25 L523.21 284.89 L526.09 284.56 L528.80 284.27 L531.35 284.02 L533.79 283.79 L536.15 283.61 L538.51 283.44 L540.94 283.31 L543.51 283.19 L546.24 283.09 L549.14 283.01 L552.09 282.94 L554.92 282.88 L557.38 282.84 L559.23 282.82 L560.35 282.81 L560.83 282.80 L560.90 282.80 L560.90 384.30 L560.83 384.30 L560.35 384.31 L559.23 384.32 L557.38 384.34 L554.92 384.38 L552.09 384.44 L549.14 384.51 L546.24 384.59 L543.51 384.69 L540.94 384.81 L538.51 384.94 L536.15 385.11 L533.79 385.29 L531.35 385.52 L528.80 385.77 L526.09 386.06 L523.21 386.39 L520.16 386.75 L516.95 387.13 L513.63 387.54 L510.25 387.95 L506.87 388.36 L503.55 388.77 L500.34 389.15 L497.29 389.51 L494.41 389.84 L491.70 390.13 L489.15 390.38 L486.71 390.61 L484.35 390.79 L481.99 390.96 L479.56 391.09 L476.99 391.21 L474.26 391.31 L471.36 391.39 L468.41 391.46 L465.58 391.52 L463.12 391.56 L461.27 391.58 L460.15 391.59 L459.67 391.60 L459.60 391.60Z" fill="#440154"/>
<path d="M459.60 391.60 L459.67 391.60 L460.15 391.60 L461.27 391.60 L463.12 391.60 L465.58 391.60 L468.41 391.60 L471.36 391.60 L474.26 391.60 L476.99 391.60 L479.56 391.60 L481.99 391.60 L484.35 391.60 L486.71 391.60 L489.15 391.60 L491.70 391.60 L494.41 391.60 L497.29 391.60 L500.34 391.60 L503.55 391.60 L506.87 391.60 L510.25 391.60 L513.63 391.60 L516.95 391.60 L520.16 391.60 L523.21 391.60 L526.09 391.60 L528.80 391.60 L531.35 391.60 L533.79 391.60 L536.15 391.60 L538.51 391.60 L540.94 391.60 L543.51 391.60 L546.24 391.60 L549.14 391.60 L552.09 391.60 L554.92 391.60 L557.38 391.60 L559.23 391.60 L560.35 391.60 L560.83 391.60 L560.90 391.60 L560.90 410.40 L560.83 410.40 L560.35 410.40 L559.23 410.40 L557.38 410.40 L554.92 410.40 L552.09 410.40 L549.14 410.40 L546.24 410.40 L543.51 410.40 L540.94 410.40 L538.51 410.40 L536.15 410.40 L533.79 410.40 L531.35 410.40 L528.80 410.40 L526.09 410.40 L523.21 410.40 L520.16 410.40 L516.95 410.40 L513.63 410.40 L510.25 410.40 L506.87 410.40 L503.55 410.40 L500.34 410.40 L497.29 410.40 L494.41 410.40 L491.70 410.40 L489.15 410.40 L486.71 410.40 L484.35 410.40 L481.99 410.40 L479.56 410.40 L476.99 410.40 L474.26 410.40 L471.36 410.40 L468.41 410.40 L465.58 410.40 L463.12 410.40 L461.27 410.40 L460.15 410.40 L459.67 410.40 L459.60 410.40Z" fill="#440154"/>
<path d="M459.60 66.60 L459.67 66.60 L460.15 66.59 L461.27 66.58 L463.12 66.55 L465.58 66.50 L468.41 66.44 L471.36 66.36 L474.26 66.27 L476.99 66.16 L479.56 66.03 L481.99 65.88 L484.35 65.70 L486.71 65.48 L489.15 65.23 L491.70 64.95 L494.41 64.62 L497.29 64.25 L500.34 63.85 L503.55 63.42 L506.87 62.97 L510.25 62.50 L513.63 62.03 L516.95 61.58 L520.16 61.15 L523.21 60.75 L526.09 60.38 L528.80 60.05 L531.35 59.77 L533.79 59.52 L536.15 59.30 L538.51 59.12 L540.94 58.97 L543.51 58.84 L546.24 58.73 L549.14 58.64 L552.09 58.56 L554.92 58.50 L557.38 58.45 L559.23 58.42 L560.35 58.41 L560.83 58.40 L560.90 58.40 L560.90 96.20 L560.83 96.20 L560.35 96.21 L559.23 96.22 L557.38 96.25 L554.92 96.30 L552.09 96.36 L549.14 96.44 L546.24 96.53 L543.51 96.64 L540.94 96.77 L538.51 96.92 L536.15 97.10 L533.79 97.32 L531.35 97.57 L528.80 97.85 L526.09 98.18 L523.21 98.55 L520.16 98.95 L516.95 99.38 L513.63 99.83 L510.25 100.30 L506.87 100.77 L503.55 101.22 L500.34 101.65 L497.29 102.05 L494.41 102.42 L491.70 102.75 L489.15 103.03 L486.71 103.28 L484.35 103.50 L481.99 103.68 L479.56 103.83 L476.99 103.96 L474.26 104.07 L471.36 104.16 L468.41 104.24 L465.58 104.30 L463.12 104.35 L461.27 104.38 L460.15 104.39 L459.67 104.40 L459.60 104.40Z" fill="#31688E"/>
<path d="M459.60 104.40 L459.67 104.40 L460.15 104.43 L461.27 104.50 L463.12 104.64 L465.58 104.86 L468.41 105.15 L471.36 105.53 L474.26 105.98 L476.99 106.51 L479.56 107.13 L481.99 107.86 L484.35 108.72 L486.71 109.74 L489.15 110.93 L491.70 112.31 L494.41 113.87 L497.29 115.62 L500.34 117.54 L503.55 119.60 L506.87 121.77 L510.25 124.00 L513.63 126.23 L516.95 128.40 L520.16 130.46 L523.21 132.38 L526.09 134.13 L528.80 135.69 L531.35 137.07 L533.79 138.26 L536.15 139.28 L538.51 140.14 L540.94 140.87 L543.51 141.49 L546.24 142.02 L549.14 142.47 L552.09 142.85 L554.92 143.14 L557.38 143.36 L559.23 143.50 L560.35 143.57 L560.83 143.60 L560.90 143.60 L560.90 178.40 L560.83 178.40 L560.35 178.37 L559.23 178.30 L557.38 178.16 L554.92 177.94 L552.09 177.65 L549.14 177.27 L546.24 176.82 L543.51 176.29 L540.94 175.67 L538.51 174.94 L536.15 174.08 L533.79 173.06 L531.35 171.87 L528.80 170.49 L526.09 168.93 L523.21 167.18 L520.16 165.26 L516.95 163.20 L513.63 161.03 L510.25 158.80 L506.87 156.57 L503.55 154.40 L500.34 152.34 L497.29 150.42 L494.41 148.67 L491.70 147.11 L489.15 145.73 L486.71 144.54 L484.35 143.52 L481.99 142.66 L479.56 141.93 L476.99 141.31 L474.26 140.78 L471.36 140.33 L468.41 139.95 L465.58 139.66 L463.12 139.44 L461.27 139.30 L460.15 139.23 L459.67 139.20 L459.60 139.20Z" fill="#31688E"/>
<path d="M459.60 139.20 L459.67 139.21 L460.15 139.26 L461.27 139.42 L463.12 139.71 L465.58 140.17 L468.41 140.80 L471.36 141.59 L474.26 142.55 L476.99 143.68 L479.56 145.00 L481.99 146.56 L484.35 148.39 L486.71 150.55 L489.15 153.08 L491.70 156.00 L494.41 159.32 L497.29 163.03 L500.34 167.11 L503.55 171.50 L506.87 176.12 L510.25 180.85 L513.63 185.58 L516.95 190.20 L520.16 194.59 L523.21 198.67 L526.09 202.38 L528.80 205.70 L531.35 208.62 L533.79 211.15 L536.15 213.31 L538.51 215.14 L540.94 216.70 L543.51 218.02 L546.24 219.15 L549.14 220.11 L552.09 220.90 L554.92 221.53 L557.38 221.99 L559.23 222.28 L560.35 222.44 L560.83 222.49 L560.90 222.50 L560.90 282.80 L560.83 282.79 L560.35 282.74 L559.23 282.58 L557.38 282.29 L554.92 281.83 L552.09 281.20 L549.14 280.41 L546.24 279.45 L543.51 278.32 L540.94 277.00 L538.51 275.44 L536.15 273.61 L533.79 271.45 L531.35 268.92 L528.80 266.00 L526.09 262.68 L523.21 258.97 L520.16 254.89 L516.95 250.50 L513.63 245.88 L510.25 241.15 L506.87 236.42 L503.55 231.80 L500.34 227.41 L497.29 223.33 L494.41 219.62 L491.70 216.30 L489.15 213.38 L486.71 210.85 L484.35 208.69 L481.99 206.86 L479.56 205.30 L476.99 203.98 L474.26 202.85 L471.36 201.89 L468.41 201.10 L465.58 200.47 L463.12 200.01 L461.27 199.72 L460.15 199.56 L459.67 199.51 L459.60 199.50Z" fill="#31688E"/>
<path d="M459.60 199.50 L459.67 199.52 L460.15 199.64 L461.27 199.98 L463.12 200.64 L465.58 201.66 L468.41 203.06 L471.36 204.84 L474.26 206.98 L476.99 209.50 L479.56 212.45 L481.99 215.92 L484.35 220.00 L486.71 224.83 L489.15 230.48 L491.70 237.00 L494.41 244.40 L497.29 252.69 L500.34 261.79 L503.55 271.59 L506.87 281.89 L510.25 292.45 L513.63 303.01 L516.95 313.31 L520.16 323.11 L523.21 332.21 L526.09 340.50 L528.80 347.90 L531.35 354.42 L533.79 360.07 L536.15 364.90 L538.51 368.98 L540.94 372.45 L543.51 375.40 L546.24 377.92 L549.14 380.06 L552.09 381.84 L554.92 383.24 L557.38 384.26 L559.23 384.92 L560.35 385.26 L560.83 385.38 L560.90 385.40 L560.90 391.60 L560.83 391.58 L560.35 391.46 L559.23 391.12 L557.38 390.46 L554.92 389.44 L552.09 388.04 L549.14 386.26 L546.24 384.12 L543.51 381.60 L540.94 378.65 L538.51 375.18 L536.15 371.10 L533.79 366.27 L531.35 360.62 L528.80 354.10 L526.09 346.70 L523.21 338.41 L520.16 329.31 L516.95 319.51 L513.63 309.21 L510.25 298.65 L506.87 288.09 L503.55 277.79 L500.34 267.99 L497.29 258.89 L494.41 250.60 L491.70 243.20 L489.15 236.68 L486.71 231.03 L484.35 226.20 L481.99 222.12 L479.56 218.65 L476.99 215.70 L474.26 213.18 L471.36 211.04 L468.41 209.26 L465.58 207.86 L463.12 206.84 L461.27 206.18 L460.15 205.84 L459.67 205.72 L459.60 205.70Z" fill="#31688E"/>
<path d="M459.60 56.00 L459.67 56.00 L460.15 56.00 L461.27 55.98 L463.12 55.96 L465.58 55.93 L468.41 55.89 L471.36 55.83 L474.26 55.77 L476.99 55.69 L479.56 55.60 L481.99 55.49 L484.35 55.36 L486.71 55.21 L489.15 55.03 L491.70 54.83 L494.41 54.60 L497.29 54.34 L500.34 54.06 L503.55 53.75 L506.87 53.43 L510.25 53.10 L513.63 52.77 L516.95 52.45 L520.16 52.14 L523.21 51.86 L526.09 51.60 L528.80 51.37 L531.35 51.17 L533.79 50.99 L536.15 50.84 L538.51 50.71 L540.94 50.60 L543.51 50.51 L546.24 50.43 L549.14 50.37 L552.09 50.31 L554.92 50.27 L557.38 50.24 L559.23 50.22 L560.35 50.20 L560.83 50.20 L560.90 50.20 L560.90 58.40 L560.83 58.40 L560.35 58.40 L559.23 58.42 L557.38 58.44 L554.92 58.47 L552.09 58.51 L549.14 58.57 L546.24 58.63 L543.51 58.71 L540.94 58.80 L538.51 58.91 L536.15 59.04 L533.79 59.19 L531.35 59.37 L528.80 59.57 L526.09 59.80 L523.21 60.06 L520.16 60.34 L516.95 60.65 L513.63 60.97 L510.25 61.30 L506.87 61.63 L503.55 61.95 L500.34 62.26 L497.29 62.54 L494.41 62.80 L491.70 63.03 L489.15 63.23 L486.71 63.41 L484.35 63.56 L481.99 63.69 L479.56 63.80 L476.99 63.89 L474.26 63.97 L471.36 64.03 L468.41 64.09 L465.58 64.13 L463.12 64.16 L461.27 64.18 L460.15 64.20 L459.67 64.20 L459.60 64.20Z" fill="#35B779"/>
<path d="M459.60 64.20 L459.67 64.21 L460.15 64.26 L461.27 64.40 L463.12 64.68 L465.58 65.11 L468.41 65.70 L471.36 66.45 L474.26 67.35 L476.99 68.42 L479.56 69.66 L481.99 71.12 L484.35 72.85 L486.71 74.88 L489.15 77.27 L491.70 80.02 L494.41 83.14 L497.29 86.63 L500.34 90.47 L503.55 94.60 L506.87 98.95 L510.25 103.40 L513.63 107.85 L516.95 112.20 L520.16 116.33 L523.21 120.17 L526.09 123.66 L528.80 126.78 L531.35 129.53 L533.79 131.92 L536.15 133.95 L538.51 135.68 L540.94 137.14 L543.51 138.38 L546.24 139.45 L549.14 140.35 L552.09 141.10 L554.92 141.69 L557.38 142.12 L559.23 142.40 L560.35 142.54 L560.83 142.59 L560.90 142.60 L560.90 143.60 L560.83 143.59 L560.35 143.54 L559.23 143.40 L557.38 143.12 L554.92 142.69 L552.09 142.10 L549.14 141.35 L546.24 140.45 L543.51 139.38 L540.94 138.14 L538.51 136.68 L536.15 134.95 L533.79 132.92 L531.35 130.53 L528.80 127.78 L526.09 124.66 L523.21 121.17 L520.16 117.33 L516.95 113.20 L513.63 108.85 L510.25 104.40 L506.87 99.95 L503.55 95.60 L500.34 91.47 L497.29 87.63 L494.41 84.14 L491.70 81.02 L489.15 78.27 L486.71 75.88 L484.35 73.85 L481.99 72.12 L479.56 70.66 L476.99 69.42 L474.26 68.35 L471.36 67.45 L468.41 66.70 L465.58 66.11 L463.12 65.68 L461.27 65.40 L460.15 65.26 L459.67 65.21 L459.60 65.20Z" fill="#35B779"/>
<path d="M459.60 65.20 L459.67 65.21 L460.15 65.32 L461.27 65.61 L463.12 66.16 L465.58 67.02 L468.41 68.20 L471.36 69.69 L474.26 71.50 L476.99 73.62 L479.56 76.11 L481.99 79.02 L484.35 82.46 L486.71 86.52 L489.15 91.28 L491.70 96.77 L494.41 103.00 L497.29 109.98 L500.34 117.64 L503.55 125.89 L506.87 134.56 L510.25 143.45 L513.63 152.34 L516.95 161.01 L520.16 169.26 L523.21 176.92 L526.09 183.90 L528.80 190.13 L531.35 195.62 L533.79 200.38 L536.15 204.44 L538.51 207.88 L540.94 210.79 L543.51 213.28 L546.24 215.40 L549.14 217.21 L552.09 218.70 L554.92 219.88 L557.38 220.74 L559.23 221.29 L560.35 221.58 L560.83 221.69 L560.90 221.70 L560.90 222.50 L560.83 222.49 L560.35 222.38 L559.23 222.09 L557.38 221.54 L554.92 220.68 L552.09 219.50 L549.14 218.01 L546.24 216.20 L543.51 214.08 L540.94 211.59 L538.51 208.68 L536.15 205.24 L533.79 201.18 L531.35 196.42 L528.80 190.93 L526.09 184.70 L523.21 177.72 L520.16 170.06 L516.95 161.81 L513.63 153.14 L510.25 144.25 L506.87 135.36 L503.55 126.69 L500.34 118.44 L497.29 110.78 L494.41 103.80 L491.70 97.57 L489.15 92.08 L486.71 87.32 L484.35 83.26 L481.99 79.82 L479.56 76.91 L476.99 74.42 L474.26 72.30 L471.36 70.49 L468.41 69.00 L465.58 67.82 L463.12 66.96 L461.27 66.41 L460.15 66.12 L459.67 66.01 L459.60 66.00Z" fill="#35B779"/>
<path d="M459.60 66.00 L459.67 66.03 L460.15 66.24 L461.27 66.83 L463.12 67.95 L465.58 69.70 L468.41 72.11 L471.36 75.15 L474.26 78.83 L476.99 83.15 L479.56 88.22 L481.99 94.16 L484.35 101.16 L486.71 109.43 L489.15 119.13 L491.70 130.31 L494.41 143.00 L497.29 157.21 L500.34 172.83 L503.55 189.62 L506.87 207.28 L510.25 225.40 L513.63 243.52 L516.95 261.18 L520.16 277.97 L523.21 293.59 L526.09 307.80 L528.80 320.49 L531.35 331.67 L533.79 341.37 L536.15 349.64 L538.51 356.64 L540.94 362.58 L543.51 367.65 L546.24 371.97 L549.14 375.65 L552.09 378.69 L554.92 381.10 L557.38 382.85 L559.23 383.97 L560.35 384.56 L560.83 384.77 L560.90 384.80 L560.90 385.40 L560.83 385.37 L560.35 385.16 L559.23 384.57 L557.38 383.45 L554.92 381.70 L552.09 379.29 L549.14 376.25 L546.24 372.57 L543.51 368.25 L540.94 363.18 L538.51 357.24 L536.15 350.24 L533.79 341.97 L531.35 332.27 L528.80 321.09 L526.09 308.40 L523.21 294.19 L520.16 278.57 L516.95 261.78 L513.63 244.12 L510.25 226.00 L506.87 207.88 L503.55 190.22 L500.34 173.43 L497.29 157.81 L494.41 143.60 L491.70 130.91 L489.15 119.73 L486.71 110.03 L484.35 101.76 L481.99 94.76 L479.56 88.82 L476.99 83.75 L474.26 79.43 L471.36 75.75 L468.41 72.71 L465.58 70.30 L463.12 68.55 L461.27 67.43 L460.15 66.84 L459.67 66.63 L459.60 66.60Z" fill="#35B779"/>
<path d="M459.60 40.70 L459.67 40.70 L460.15 40.70 L461.27 40.70 L463.12 40.70 L465.58 40.70 L468.41 40.70 L471.36 40.70 L474.26 40.70 L476.99 40.70 L479.56 40.70 L481.99 40.70 L484.35 40.70 L486.71 40.70 L489.15 40.70 L491.70 40.70 L494.41 40.70 L497.29 40.70 L500.34 40.70 L503.55 40.70 L506.87 40.70 L510.25 40.70 L513.63 40.70 L516.95 40.70 L520.16 40.70 L523.21 40.70 L526.09 40.70 L528.80 40.70 L531.35 40.70 L533.79 40.70 L536.15 40.70 L538.51 40.70 L540.94 40.70 L543.51 40.70 L546.24 40.70 L549.14 40.70 L552.09 40.70 L554.92 40.70 L557.38 40.70 L559.23 40.70 L560.35 40.70 L560.83 40.70 L560.90 40.70 L560.90 50.20 L560.83 50.20 L560.35 50.20 L559.23 50.20 L557.38 50.20 L554.92 50.20 L552.09 50.20 L549.14 50.20 L546.24 50.20 L543.51 50.20 L540.94 50.20 L538.51 50.20 L536.15 50.20 L533.79 50.20 L531.35 50.20 L528.80 50.20 L526.09 50.20 L523.21 50.20 L520.16 50.20 L516.95 50.20 L513.63 50.20 L510.25 50.20 L506.87 50.20 L503.55 50.20 L500.34 50.20 L497.29 50.20 L494.41 50.20 L491.70 50.20 L489.15 50.20 L486.71 50.20 L484.35 50.20 L481.99 50.20 L479.56 50.20 L476.99 50.20 L474.26 50.20 L471.36 50.20 L468.41 50.20 L465.58 50.20 L463.12 50.20 L461.27 50.20 L460.15 50.20 L459.67 50.20 L459.60 50.20Z" fill="#FDE725"/>
<path d="M459.60 50.20 L459.67 50.22 L460.15 50.33 L461.27 50.63 L463.12 51.22 L465.58 52.13 L468.41 53.39 L471.36 54.97 L474.26 56.89 L476.99 59.14 L479.56 61.78 L481.99 64.88 L484.35 68.53 L486.71 72.84 L489.15 77.90 L491.70 83.73 L494.41 90.34 L497.29 97.75 L500.34 105.89 L503.55 114.65 L506.87 123.86 L510.25 133.30 L513.63 142.74 L516.95 151.95 L520.16 160.71 L523.21 168.85 L526.09 176.26 L528.80 182.87 L531.35 188.70 L533.79 193.76 L536.15 198.07 L538.51 201.72 L540.94 204.82 L543.51 207.46 L546.24 209.71 L549.14 211.63 L552.09 213.21 L554.92 214.47 L557.38 215.38 L559.23 215.97 L560.35 216.27 L560.83 216.38 L560.90 216.40 L560.90 221.70 L560.83 221.68 L560.35 221.57 L559.23 221.27 L557.38 220.68 L554.92 219.77 L552.09 218.51 L549.14 216.93 L546.24 215.01 L543.51 212.76 L540.94 210.12 L538.51 207.02 L536.15 203.37 L533.79 199.06 L531.35 194.00 L528.80 188.17 L526.09 181.56 L523.21 174.15 L520.16 166.01 L516.95 157.25 L513.63 148.04 L510.25 138.60 L506.87 129.16 L503.55 119.95 L500.34 111.19 L497.29 103.05 L494.41 95.64 L491.70 89.03 L489.15 83.20 L486.71 78.14 L484.35 73.83 L481.99 70.18 L479.56 67.08 L476.99 64.44 L474.26 62.19 L471.36 60.27 L468.41 58.69 L465.58 57.43 L463.12 56.52 L461.27 55.93 L460.15 55.63 L459.67 55.52 L459.60 55.50Z" fill="#FDE725"/>
<path d="M459.60 55.50 L459.67 55.53 L460.15 55.75 L461.27 56.36 L463.12 57.51 L465.58 59.32 L468.41 61.80 L471.36 64.94 L474.26 68.73 L476.99 73.19 L479.56 78.41 L481.99 84.54 L484.35 91.76 L486.71 100.29 L489.15 110.30 L491.70 121.83 L494.41 134.92 L497.29 149.57 L500.34 165.68 L503.55 183.00 L506.87 201.22 L510.25 219.90 L513.63 238.58 L516.95 256.80 L520.16 274.12 L523.21 290.23 L526.09 304.88 L528.80 317.97 L531.35 329.50 L533.79 339.51 L536.15 348.04 L538.51 355.26 L540.94 361.39 L543.51 366.61 L546.24 371.07 L549.14 374.86 L552.09 378.00 L554.92 380.48 L557.38 382.29 L559.23 383.44 L560.35 384.05 L560.83 384.27 L560.90 384.30 L560.90 384.80 L560.83 384.77 L560.35 384.55 L559.23 383.94 L557.38 382.79 L554.92 380.98 L552.09 378.50 L549.14 375.36 L546.24 371.57 L543.51 367.11 L540.94 361.89 L538.51 355.76 L536.15 348.54 L533.79 340.01 L531.35 330.00 L528.80 318.47 L526.09 305.38 L523.21 290.73 L520.16 274.62 L516.95 257.30 L513.63 239.08 L510.25 220.40 L506.87 201.72 L503.55 183.50 L500.34 166.18 L497.29 150.07 L494.41 135.42 L491.70 122.33 L489.15 110.80 L486.71 100.79 L484.35 92.26 L481.99 85.04 L479.56 78.91 L476.99 73.69 L474.26 69.23 L471.36 65.44 L468.41 62.30 L465.58 59.82 L463.12 58.01 L461.27 56.86 L460.15 56.25 L459.67 56.03 L459.60 56.00Z" fill="#FDE725"/>
</g>
<rect x="426.10" y="40.70" width="33.50" height="15.30" fill="#FDE725" fill-opacity="0.40"/>
<rect x="426.10" y="56.00" width="33.50" height="10.60" fill="#35B779" fill-opacity="0.40"/>
<rect x="426.10" y="66.60" width="33.50" height="139.10" fill="#31688E" fill-opacity="0.40"/>
<rect x="426.10" y="205.70" width="33.50" height="204.70" fill="#440154" fill-opacity="0.40"/>
<rect x="560.90" y="40.70" width="33.50" height="9.50" fill="#FDE725" fill-opacity="0.40"/>
<rect x="560.90" y="50.20" width="33.50" height="8.20" fill="#35B779" fill-opacity="0.40"/>
<rect x="560.90" y="58.40" width="33.50" height="37.80" fill="#31688E" fill-opacity="0.40"/>
<rect x="560.90" y="96.20" width="33.50" height="46.40" fill="#440154" fill-opacity="0.40"/>
<rect x="560.90" y="142.60" width="33.50" height="1.00" fill="#35B779" fill-opacity="0.40"/>
<rect x="560.90" y="143.60" width="33.50" height="34.80" fill="#31688E" fill-opacity="0.40"/>
<rect x="560.90" y="178.40" width="33.50" height="38.00" fill="#440154" fill-opacity="0.40"/>
<rect x="560.90" y="216.40" width="33.50" height="5.30" fill="#FDE725" fill-opacity="0.40"/>
<rect x="560.90" y="221.70" width="33.50" height="0.80" fill="#35B779" fill-opacity="0.40"/>
<rect x="560.90" y="222.50" width="33.50" height="60.30" fill="#31688E" fill-opacity="0.40"/>
<rect x="560.90" y="282.80" width="33.50" height="101.50" fill="#440154" fill-opacity="0.40"/>
<rect x="560.90" y="384.30" width="33.50" height="0.50" fill="#FDE725" fill-opacity="0.40"/>
<rect x="560.90" y="384.80" width="33.50" height="0.60" fill="#35B779" fill-opacity="0.40"/>
<rect x="560.90" y="385.40" width="33.50" height="6.20" fill="#31688E" fill-opacity="0.40"/>
<rect x="560.90" y="391.60" width="33.50" height="18.80" fill="#440154" fill-opacity="0.40"/>
<g fill="none" stroke="#222" stroke-width="1.15" stroke-linejoin="round">
<rect x="426.10" y="40.70" width="33.50" height="15.30"/>
<rect x="426.10" y="56.00" width="33.50" height="10.60"/>
<rect x="426.10" y="66.60" width="33.50" height="139.10"/>
<rect x="426.10" y="205.70" width="33.50" height="204.70"/>
<rect x="560.90" y="40.70" width="33.50" height="101.90"/>
<rect x="560.90" y="142.60" width="33.50" height="73.80"/>
<rect x="560.90" y="216.40" width="33.50" height="167.90"/>
<rect x="560.90" y="384.30" width="33.50" height="26.10"/>
</g>
<text x="444.55" y="52.65" font-size="10.9" text-anchor="middle" fill="#111" stroke="#111" stroke-width="0.2">4</text>
<text x="444.55" y="65.60" font-size="10.9" text-anchor="middle" fill="#111" stroke="#111" stroke-width="0.2">3</text>
<text x="442.85" y="140.45" font-size="10.9" text-anchor="middle" fill="#111" stroke="#111" stroke-width="0.2">38</text>
<text x="442.85" y="312.35" font-size="10.9" text-anchor="middle" fill="#111" stroke="#111" stroke-width="0.2">55</text>
<text x="577.65" y="95.95" font-size="10.9" text-anchor="middle" fill="#111" stroke="#111" stroke-width="0.2">28</text>
<text x="577.65" y="183.80" font-size="10.9" text-anchor="middle" fill="#111" stroke="#111" stroke-width="0.2">20</text>
<text x="577.65" y="304.65" font-size="10.9" text-anchor="middle" fill="#111" stroke="#111" stroke-width="0.2">45</text>
<text x="579.35" y="401.65" font-size="10.9" text-anchor="middle" fill="#111" stroke="#111" stroke-width="0.2">7</text>
<text x="510.65" y="18.4" font-size="19" text-anchor="middle" textLength="142.7" lengthAdjust="spacing" fill="#000" stroke="#000" stroke-width="0.3">Southern Europe</text>
<text x="442.45" y="433.6" font-size="13.6" text-anchor="middle" fill="#000" stroke="#000" stroke-width="0.2">G1</text>
<text x="577.75" y="433.6" font-size="13.6" text-anchor="middle" fill="#000" stroke="#000" stroke-width="0.2">G2</text>
<rect x="133.0" y="442.7" width="11.4" height="11.4" fill="#440154" fill-opacity="0.5"/>
<text x="149.2" y="452.5" font-size="12.1" textLength="57.2" lengthAdjust="spacing" fill="#000" stroke="#000" stroke-width="0.2">No degree</text>
<rect x="211.1" y="442.7" width="11.4" height="11.4" fill="#31688E" fill-opacity="0.5"/>
<text x="227.3" y="452.5" font-size="12.1" textLength="74.0" lengthAdjust="spacing" fill="#000" stroke="#000" stroke-width="0.2">Lower degree</text>
<rect x="306.1" y="442.7" width="11.4" height="11.4" fill="#35B779" fill-opacity="0.5"/>
<text x="322.7" y="452.5" font-size="12.1" textLength="92.5" lengthAdjust="spacing" fill="#000" stroke="#000" stroke-width="0.2">Upper secondary</text>
<rect x="420.2" y="442.7" width="11.4" height="11.4" fill="#FDE725" fill-opacity="0.5"/>
<text x="437.2" y="452.5" font-size="12.1" textLength="39.6" lengthAdjust="spacing" fill="#000" stroke="#000" stroke-width="0.2">Tertiary</text>
</svg></body></html>
